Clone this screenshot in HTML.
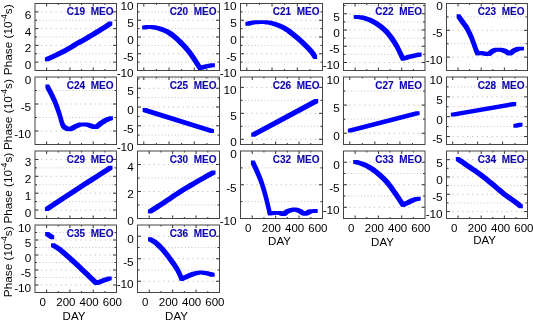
<!DOCTYPE html>
<html><head><meta charset="utf-8"><style>
html,body{margin:0;padding:0;background:#fff;}
body{width:533px;height:324px;overflow:hidden;}
svg{display:block;will-change:transform;}
text{font-family:"Liberation Sans",sans-serif;}
.t{font-size:10px;font-weight:bold;fill:#0d06ae;stroke:#0d06ae;stroke-width:0.12px;text-anchor:end;}
.yl{font-size:11.8px;fill:#000;text-anchor:end;}
.xl{font-size:11.5px;fill:#000;text-anchor:middle;}
.ya{font-size:11.8px;fill:#000;text-anchor:middle;}
.sup{font-size:8.6px;}
</style></head><body>
<svg width="533" height="324" viewBox="0 0 533 324">
<rect width="533" height="324" fill="#fff"/>
<line x1="36" y1="62.12" x2="115.5" y2="62.12" stroke="#c4c4c4" stroke-dasharray="1.3 3.6"/>
<line x1="36" y1="53.75" x2="115.5" y2="53.75" stroke="#c4c4c4" stroke-dasharray="1 2.3"/>
<line x1="36" y1="45.38" x2="115.5" y2="45.38" stroke="#c4c4c4" stroke-dasharray="1.3 3.6"/>
<line x1="36" y1="37" x2="115.5" y2="37" stroke="#c4c4c4" stroke-dasharray="1 2.3"/>
<line x1="36" y1="28.62" x2="115.5" y2="28.62" stroke="#c4c4c4" stroke-dasharray="1.3 3.6"/>
<line x1="36" y1="20.25" x2="115.5" y2="20.25" stroke="#c4c4c4" stroke-dasharray="1 2.3"/>
<line x1="36" y1="11.88" x2="115.5" y2="11.88" stroke="#c4c4c4" stroke-dasharray="1.3 3.6"/>
<path d="M35 62.12h3.5M116.5 62.12h-3.5" stroke="#333"/>
<path d="M35 53.75h2M116.5 53.75h-2" stroke="#333"/>
<path d="M35 45.38h3.5M116.5 45.38h-3.5" stroke="#333"/>
<path d="M35 37h2M116.5 37h-2" stroke="#333"/>
<path d="M35 28.62h3.5M116.5 28.62h-3.5" stroke="#333"/>
<path d="M35 20.25h2M116.5 20.25h-2" stroke="#333"/>
<path d="M35 11.88h3.5M116.5 11.88h-3.5" stroke="#333"/>
<path d="M46.64 3.5v3M46.64 70.5v-3" stroke="#333"/>
<path d="M58.29 3.5v1.5M58.29 70.5v-1.5" stroke="#333"/>
<path d="M69.93 3.5v3M69.93 70.5v-3" stroke="#333"/>
<path d="M81.57 3.5v1.5M81.57 70.5v-1.5" stroke="#333"/>
<path d="M93.21 3.5v3M93.21 70.5v-3" stroke="#333"/>
<path d="M104.86 3.5v1.5M104.86 70.5v-1.5" stroke="#333"/>
<path d="M44.9 57.5 45.77 57.1 49.57 57.1 49.57 60.9 48.7 61.3 44.9 61.3ZM45.77 57.1 46.94 56.57 50.74 56.57 50.74 60.37 49.57 60.9 45.77 60.9ZM46.94 56.57 48.34 55.93 52.14 55.93 52.14 59.73 50.74 60.37 46.94 60.37ZM48.34 55.93 49.89 55.21 53.69 55.21 53.69 59.01 52.14 59.73 48.34 59.73ZM49.89 55.21 51.51 54.46 55.31 54.46 55.31 58.26 53.69 59.01 49.89 59.01ZM51.51 54.46 53.1 53.7 56.9 53.7 56.9 57.5 55.31 58.26 51.51 58.26ZM53.1 53.7 54.72 52.93 58.52 52.93 58.52 56.73 56.9 57.5 53.1 57.5ZM54.72 52.93 56.43 52.11 60.23 52.11 60.23 55.91 58.52 56.73 54.72 56.73ZM56.43 52.11 58.21 51.25 62.01 51.25 62.01 55.05 60.23 55.91 56.43 55.91ZM58.21 51.25 60.01 50.36 63.81 50.36 63.81 54.16 62.01 55.05 58.21 55.05ZM60.01 50.36 61.82 49.44 65.62 49.44 65.62 53.24 63.81 54.16 60.01 54.16ZM61.82 49.44 63.6 48.5 67.4 48.5 67.4 52.3 65.62 53.24 61.82 53.24ZM63.6 48.5 65.35 47.52 69.15 47.52 69.15 51.32 67.4 52.3 63.6 52.3ZM65.35 47.52 67.1 46.5 70.9 46.5 70.9 50.3 69.15 51.32 65.35 51.32ZM67.1 46.5 68.85 45.44 72.65 45.44 72.65 49.24 70.9 50.3 67.1 50.3ZM68.85 45.44 70.6 44.38 74.4 44.38 74.4 48.18 72.65 49.24 68.85 49.24ZM70.6 44.38 72.35 43.33 76.15 43.33 76.15 47.13 74.4 48.18 70.6 48.18ZM72.35 43.33 74.1 42.3 77.9 42.3 77.9 46.1 76.15 47.13 72.35 47.13ZM74.1 42.3 75.85 41.3 79.65 41.3 79.65 45.1 77.9 46.1 74.1 46.1ZM75.85 41.3 77.6 40.33 81.4 40.33 81.4 44.13 79.65 45.1 75.85 45.1ZM77.6 40.33 79.35 39.36 83.15 39.36 83.15 43.16 81.4 44.13 77.6 44.13ZM79.35 39.36 81.1 38.39 84.9 38.39 84.9 42.19 83.15 43.16 79.35 43.16ZM81.1 38.39 82.85 37.4 86.65 37.4 86.65 41.2 84.9 42.19 81.1 42.19ZM82.85 37.4 84.6 36.4 88.4 36.4 88.4 40.2 86.65 41.2 82.85 41.2ZM84.6 36.4 86.37 35.36 90.17 35.36 90.17 39.16 88.4 40.2 84.6 40.2ZM86.37 35.36 88.18 34.29 91.98 34.29 91.98 38.09 90.17 39.16 86.37 39.16ZM88.18 34.29 89.98 33.21 93.78 33.21 93.78 37.01 91.98 38.09 88.18 38.09ZM89.98 33.21 91.76 32.13 95.56 32.13 95.56 35.93 93.78 37.01 89.98 37.01ZM91.76 32.13 93.47 31.09 97.27 31.09 97.27 34.89 95.56 35.93 91.76 35.93ZM93.47 31.09 95.1 30.1 98.9 30.1 98.9 33.9 97.27 34.89 93.47 34.89ZM95.1 30.1 96.66 29.15 100.46 29.15 100.46 32.95 98.9 33.9 95.1 33.9ZM96.66 29.15 98.18 28.22 101.98 28.22 101.98 32.02 100.46 32.95 96.66 32.95ZM98.18 28.22 99.64 27.32 103.44 27.32 103.44 31.12 101.98 32.02 98.18 32.02ZM99.64 27.32 101.03 26.46 104.83 26.46 104.83 30.26 103.44 31.12 99.64 31.12ZM101.03 26.46 102.32 25.65 106.12 25.65 106.12 29.45 104.83 30.26 101.03 30.26ZM102.32 25.65 103.5 24.9 107.3 24.9 107.3 28.7 106.12 29.45 102.32 29.45ZM103.5 24.9 104.59 24.19 108.39 24.19 108.39 27.99 107.3 28.7 103.5 28.7ZM104.59 24.19 105.6 23.51 109.4 23.51 109.4 27.31 108.39 27.99 104.59 27.99ZM105.6 23.51 106.53 22.88 110.33 22.88 110.33 26.67 109.4 27.31 105.6 27.31ZM106.53 22.88 107.33 22.31 111.13 22.31 111.13 26.11 110.33 26.67 106.53 26.67ZM107.33 22.31 108 21.85 111.8 21.85 111.8 25.65 111.13 26.11 107.33 26.11ZM108 21.85 108.5 21.5 112.3 21.5 112.3 25.3 111.8 25.65 108 25.65Z" fill="#0000ff"/>
<rect x="35" y="3.5" width="81.5" height="67" fill="none" stroke="#444"/>
<text x="113.5" y="14.9" class="t">C19&#160;&#160;MEO</text>
<text x="31.2" y="69.03" class="yl">0</text>
<text x="31.2" y="52.27" class="yl">2</text>
<text x="31.2" y="35.52" class="yl">4</text>
<text x="31.2" y="18.77" class="yl">6</text>
<line x1="138.5" y1="62.12" x2="218.5" y2="62.12" stroke="#c4c4c4" stroke-dasharray="1 2.3"/>
<line x1="138.5" y1="53.75" x2="218.5" y2="53.75" stroke="#c4c4c4" stroke-dasharray="1.3 3.6"/>
<line x1="138.5" y1="45.38" x2="218.5" y2="45.38" stroke="#c4c4c4" stroke-dasharray="1 2.3"/>
<line x1="138.5" y1="37" x2="218.5" y2="37" stroke="#c4c4c4" stroke-dasharray="1.3 3.6"/>
<line x1="138.5" y1="28.62" x2="218.5" y2="28.62" stroke="#c4c4c4" stroke-dasharray="1 2.3"/>
<line x1="138.5" y1="20.25" x2="218.5" y2="20.25" stroke="#c4c4c4" stroke-dasharray="1.3 3.6"/>
<line x1="138.5" y1="11.88" x2="218.5" y2="11.88" stroke="#c4c4c4" stroke-dasharray="1 2.3"/>
<path d="M137.5 62.12h2M219.5 62.12h-2" stroke="#333"/>
<path d="M137.5 53.75h3.5M219.5 53.75h-3.5" stroke="#333"/>
<path d="M137.5 45.38h2M219.5 45.38h-2" stroke="#333"/>
<path d="M137.5 37h3.5M219.5 37h-3.5" stroke="#333"/>
<path d="M137.5 28.62h2M219.5 28.62h-2" stroke="#333"/>
<path d="M137.5 20.25h3.5M219.5 20.25h-3.5" stroke="#333"/>
<path d="M137.5 11.88h2M219.5 11.88h-2" stroke="#333"/>
<path d="M143.81 3.5v3M143.81 70.5v-3" stroke="#333"/>
<path d="M156.42 3.5v1.5M156.42 70.5v-1.5" stroke="#333"/>
<path d="M169.04 3.5v3M169.04 70.5v-3" stroke="#333"/>
<path d="M181.65 3.5v1.5M181.65 70.5v-1.5" stroke="#333"/>
<path d="M194.27 3.5v3M194.27 70.5v-3" stroke="#333"/>
<path d="M206.88 3.5v1.5M206.88 70.5v-1.5" stroke="#333"/>
<path d="M142.1 25.7 142.68 25.6 146.48 25.6 146.48 29.4 145.9 29.5 142.1 29.5ZM142.68 25.6 143.45 25.44 147.25 25.44 147.25 29.24 146.48 29.4 142.68 29.4ZM143.45 25.44 144.37 25.27 148.17 25.27 148.17 29.07 147.25 29.24 143.45 29.24ZM144.37 25.27 145.42 25.11 149.22 25.11 149.22 28.91 148.17 29.07 144.37 29.07ZM145.42 25.11 146.54 25.01 150.34 25.01 150.34 28.81 149.22 28.91 145.42 28.91ZM146.54 25.01 147.7 25 151.5 25 151.5 28.8 150.34 28.81 146.54 28.81ZM147.7 25 151.5 25 152.71 25.07 152.71 28.87 148.91 28.87 147.7 28.8ZM148.91 25.07 152.71 25.07 154.01 25.18 154.01 28.98 150.21 28.98 148.91 28.87ZM150.21 25.18 154.01 25.18 155.39 25.34 155.39 29.14 151.59 29.14 150.21 28.98ZM151.59 25.34 155.39 25.34 156.84 25.58 156.84 29.38 153.04 29.38 151.59 29.14ZM153.04 25.58 156.84 25.58 158.35 25.89 158.35 29.69 154.55 29.69 153.04 29.38ZM154.55 25.89 158.35 25.89 159.9 26.3 159.9 30.1 156.1 30.1 154.55 29.69ZM156.1 26.3 159.9 26.3 161.53 26.78 161.53 30.58 157.73 30.58 156.1 30.1ZM157.73 26.78 161.53 26.78 163.24 27.33 163.24 31.13 159.44 31.13 157.73 30.58ZM159.44 27.33 163.24 27.33 165.02 27.96 165.02 31.76 161.22 31.76 159.44 31.13ZM161.22 27.96 165.02 27.96 166.82 28.68 166.82 32.48 163.02 32.48 161.22 31.76ZM163.02 28.68 166.82 28.68 168.63 29.52 168.63 33.32 164.83 33.32 163.02 32.48ZM164.83 29.52 168.63 29.52 170.4 30.5 170.4 34.3 166.6 34.3 164.83 33.32ZM166.6 30.5 170.4 30.5 172.15 31.62 172.15 35.42 168.35 35.42 166.6 34.3ZM168.35 31.62 172.15 31.62 173.9 32.87 173.9 36.67 170.1 36.67 168.35 35.42ZM170.1 32.87 173.9 32.87 175.65 34.24 175.65 38.04 171.85 38.04 170.1 36.67ZM171.85 34.24 175.65 34.24 177.4 35.71 177.4 39.51 173.6 39.51 171.85 38.04ZM173.6 35.71 177.4 35.71 179.15 37.27 179.15 41.07 175.35 41.07 173.6 39.51ZM175.35 37.27 179.15 37.27 180.9 38.9 180.9 42.7 177.1 42.7 175.35 41.07ZM177.1 38.9 180.9 38.9 182.65 40.6 182.65 44.4 178.85 44.4 177.1 42.7ZM178.85 40.6 182.65 40.6 184.4 42.38 184.4 46.18 180.6 46.18 178.85 44.4ZM180.6 42.38 184.4 42.38 186.15 44.24 186.15 48.04 182.35 48.04 180.6 46.18ZM182.35 44.24 186.15 44.24 187.9 46.21 187.9 50.01 184.1 50.01 182.35 48.04ZM184.1 46.21 187.9 46.21 189.65 48.29 189.65 52.09 185.85 52.09 184.1 50.01ZM185.85 48.29 189.65 48.29 191.4 50.5 191.4 54.3 187.6 54.3 185.85 52.09ZM187.6 50.5 191.4 50.5 193.27 53.06 193.27 56.86 189.47 56.86 187.6 54.3ZM189.47 53.06 193.27 53.06 195.29 56.01 195.29 59.81 191.49 59.81 189.47 56.86ZM191.49 56.01 195.29 56.01 197.31 59.07 197.31 62.87 193.51 62.87 191.49 59.81ZM193.51 59.07 197.31 59.07 199.18 61.98 199.18 65.78 195.38 65.78 193.51 62.87ZM195.38 61.98 199.18 61.98 200.76 64.44 200.76 68.24 196.96 68.24 195.38 65.78ZM196.96 64.44 200.76 64.44 201.9 66.2 201.9 70 198.1 70 196.96 68.24Z" fill="#0000ff"/>
<path d="M198.1 66.2 198.78 66.01 202.58 66.01 202.58 69.81 201.9 70 198.1 70ZM198.78 66.01 199.72 65.74 203.52 65.74 203.52 69.54 202.58 69.81 198.78 69.81ZM199.72 65.74 200.83 65.43 204.63 65.43 204.63 69.23 203.52 69.54 199.72 69.54ZM200.83 65.43 202.04 65.1 205.84 65.1 205.84 68.9 204.63 69.23 200.83 69.23ZM202.04 65.1 203.25 64.78 207.05 64.78 207.05 68.58 205.84 68.9 202.04 68.9ZM203.25 64.78 204.4 64.5 208.2 64.5 208.2 68.3 207.05 68.58 203.25 68.58ZM204.4 64.5 205.57 64.25 209.37 64.25 209.37 68.05 208.2 68.3 204.4 68.3ZM205.57 64.25 206.85 63.99 210.65 63.99 210.65 67.79 209.37 68.05 205.57 68.05ZM206.85 63.99 208.14 63.74 211.94 63.74 211.94 67.54 210.65 67.79 206.85 67.79ZM208.14 63.74 209.35 63.52 213.15 63.52 213.15 67.32 211.94 67.54 208.14 67.54ZM209.35 63.52 210.37 63.34 214.17 63.34 214.17 67.14 213.15 67.32 209.35 67.32ZM210.37 63.34 211.1 63.2 214.9 63.2 214.9 67 214.17 67.14 210.37 67.14Z" fill="#0000ff"/>
<rect x="137.5" y="3.5" width="82" height="67" fill="none" stroke="#444"/>
<text x="216.5" y="14.9" class="t">C20&#160;&#160;MEO</text>
<text x="133.7" y="77.4" class="yl">-10</text>
<text x="133.7" y="60.65" class="yl">-5</text>
<text x="133.7" y="43.9" class="yl">0</text>
<text x="133.7" y="27.15" class="yl">5</text>
<text x="133.7" y="10.4" class="yl">10</text>
<line x1="241.5" y1="62.12" x2="321.5" y2="62.12" stroke="#c4c4c4" stroke-dasharray="1 2.3"/>
<line x1="241.5" y1="53.75" x2="321.5" y2="53.75" stroke="#c4c4c4" stroke-dasharray="1.3 3.6"/>
<line x1="241.5" y1="45.38" x2="321.5" y2="45.38" stroke="#c4c4c4" stroke-dasharray="1 2.3"/>
<line x1="241.5" y1="37" x2="321.5" y2="37" stroke="#c4c4c4" stroke-dasharray="1.3 3.6"/>
<line x1="241.5" y1="28.62" x2="321.5" y2="28.62" stroke="#c4c4c4" stroke-dasharray="1 2.3"/>
<line x1="241.5" y1="20.25" x2="321.5" y2="20.25" stroke="#c4c4c4" stroke-dasharray="1.3 3.6"/>
<line x1="241.5" y1="11.88" x2="321.5" y2="11.88" stroke="#c4c4c4" stroke-dasharray="1 2.3"/>
<path d="M240.5 62.12h2M322.5 62.12h-2" stroke="#333"/>
<path d="M240.5 53.75h3.5M322.5 53.75h-3.5" stroke="#333"/>
<path d="M240.5 45.38h2M322.5 45.38h-2" stroke="#333"/>
<path d="M240.5 37h3.5M322.5 37h-3.5" stroke="#333"/>
<path d="M240.5 28.62h2M322.5 28.62h-2" stroke="#333"/>
<path d="M240.5 20.25h3.5M322.5 20.25h-3.5" stroke="#333"/>
<path d="M240.5 11.88h2M322.5 11.88h-2" stroke="#333"/>
<path d="M246.81 3.5v3M246.81 70.5v-3" stroke="#333"/>
<path d="M259.42 3.5v1.5M259.42 70.5v-1.5" stroke="#333"/>
<path d="M272.04 3.5v3M272.04 70.5v-3" stroke="#333"/>
<path d="M284.65 3.5v1.5M284.65 70.5v-1.5" stroke="#333"/>
<path d="M297.27 3.5v3M297.27 70.5v-3" stroke="#333"/>
<path d="M309.88 3.5v1.5M309.88 70.5v-1.5" stroke="#333"/>
<path d="M245.4 22 245.94 21.85 249.74 21.85 249.74 25.65 249.2 25.8 245.4 25.8ZM245.94 21.85 246.66 21.63 250.46 21.63 250.46 25.43 249.74 25.65 245.94 25.65ZM246.66 21.63 247.53 21.38 251.33 21.38 251.33 25.18 250.46 25.43 246.66 25.43ZM247.53 21.38 248.51 21.12 252.31 21.12 252.31 24.92 251.33 25.18 247.53 25.18ZM248.51 21.12 249.58 20.89 253.38 20.89 253.38 24.69 252.31 24.92 248.51 24.92ZM249.58 20.89 250.7 20.7 254.5 20.7 254.5 24.5 253.38 24.69 249.58 24.69ZM250.7 20.7 251.92 20.56 255.72 20.56 255.72 24.36 254.5 24.5 250.7 24.5ZM251.92 20.56 253.27 20.43 257.07 20.43 257.07 24.23 255.72 24.36 251.92 24.36ZM253.27 20.43 254.71 20.33 258.51 20.33 258.51 24.13 257.07 24.23 253.27 24.23ZM254.71 20.33 256.19 20.26 259.99 20.26 259.99 24.06 258.51 24.13 254.71 24.13ZM256.19 20.26 257.66 20.21 261.46 20.21 261.46 24.01 259.99 24.06 256.19 24.06ZM257.66 20.21 259.1 20.2 262.9 20.2 262.9 24 261.46 24.01 257.66 24.01ZM259.1 20.2 262.9 20.2 264.3 20.22 264.3 24.02 260.5 24.02 259.1 24ZM260.5 20.22 264.3 20.22 265.7 20.25 265.7 24.05 261.9 24.05 260.5 24.02ZM261.9 20.25 265.7 20.25 267.1 20.32 267.1 24.12 263.3 24.12 261.9 24.05ZM263.3 20.32 267.1 20.32 268.5 20.43 268.5 24.23 264.7 24.23 263.3 24.12ZM264.7 20.43 268.5 20.43 269.9 20.58 269.9 24.38 266.1 24.38 264.7 24.23ZM266.1 20.58 269.9 20.58 271.3 20.8 271.3 24.6 267.5 24.6 266.1 24.38ZM267.5 20.8 271.3 20.8 272.7 21.07 272.7 24.87 268.9 24.87 267.5 24.6ZM268.9 21.07 272.7 21.07 274.1 21.4 274.1 25.2 270.3 25.2 268.9 24.87ZM270.3 21.4 274.1 21.4 275.5 21.78 275.5 25.57 271.7 25.57 270.3 25.2ZM271.7 21.78 275.5 21.78 276.9 22.2 276.9 26 273.1 26 271.7 25.57ZM273.1 22.2 276.9 22.2 278.3 22.68 278.3 26.47 274.5 26.47 273.1 26ZM274.5 22.68 278.3 22.68 279.7 23.2 279.7 27 275.9 27 274.5 26.47ZM275.9 23.2 279.7 23.2 281.1 23.77 281.1 27.57 277.3 27.57 275.9 27ZM277.3 23.77 281.1 23.77 282.5 24.39 282.5 28.19 278.7 28.19 277.3 27.57ZM278.7 24.39 282.5 24.39 283.9 25.06 283.9 28.86 280.1 28.86 278.7 28.19ZM280.1 25.06 283.9 25.06 285.3 25.78 285.3 29.58 281.5 29.58 280.1 28.86ZM281.5 25.78 285.3 25.78 286.7 26.56 286.7 30.36 282.9 30.36 281.5 29.58ZM282.9 26.56 286.7 26.56 288.1 27.4 288.1 31.2 284.3 31.2 282.9 30.36ZM284.3 27.4 288.1 27.4 289.5 28.32 289.5 32.12 285.7 32.12 284.3 31.2ZM285.7 28.32 289.5 28.32 290.9 29.31 290.9 33.11 287.1 33.11 285.7 32.12ZM287.1 29.31 290.9 29.31 292.3 30.36 292.3 34.16 288.5 34.16 287.1 33.11ZM288.5 30.36 292.3 30.36 293.7 31.45 293.7 35.25 289.9 35.25 288.5 34.16ZM289.9 31.45 293.7 31.45 295.1 32.57 295.1 36.37 291.3 36.37 289.9 35.25ZM291.3 32.57 295.1 32.57 296.5 33.7 296.5 37.5 292.7 37.5 291.3 36.37ZM292.7 33.7 296.5 33.7 297.9 34.84 297.9 38.64 294.1 38.64 292.7 37.5ZM294.1 34.84 297.9 34.84 299.3 36 299.3 39.8 295.5 39.8 294.1 38.64ZM295.5 36 299.3 36 300.7 37.19 300.7 40.99 296.9 40.99 295.5 39.8ZM296.9 37.19 300.7 37.19 302.1 38.42 302.1 42.22 298.3 42.22 296.9 40.99ZM298.3 38.42 302.1 38.42 303.5 39.68 303.5 43.48 299.7 43.48 298.3 42.22ZM299.7 39.68 303.5 39.68 304.9 41 304.9 44.8 301.1 44.8 299.7 43.48ZM301.1 41 304.9 41 306.35 42.42 306.35 46.22 302.55 46.22 301.1 44.8ZM302.55 42.42 306.35 42.42 307.87 43.94 307.87 47.74 304.07 47.74 302.55 46.22ZM304.07 43.94 307.87 43.94 309.39 45.51 309.39 49.31 305.59 49.31 304.07 47.74ZM305.59 45.51 309.39 45.51 310.84 47.06 310.84 50.86 307.04 50.86 305.59 49.31ZM307.04 47.06 310.84 47.06 312.17 48.51 312.17 52.31 308.37 52.31 307.04 50.86ZM308.37 48.51 312.17 48.51 313.3 49.8 313.3 53.6 309.5 53.6 308.37 52.31ZM309.5 49.8 313.3 49.8 314.24 50.97 314.24 54.77 310.44 54.77 309.5 53.6ZM310.44 50.97 314.24 50.97 315.05 52.08 315.05 55.88 311.25 55.88 310.44 54.77ZM311.25 52.08 315.05 52.08 315.72 53.1 315.72 56.9 311.93 56.9 311.25 55.88ZM311.93 53.1 315.72 53.1 316.29 54 316.29 57.8 312.49 57.8 311.93 56.9ZM312.49 54 316.29 54 316.74 54.74 316.74 58.54 312.94 58.54 312.49 57.8ZM312.94 54.74 316.74 54.74 317.1 55.3 317.1 59.1 313.3 59.1 312.94 58.54Z" fill="#0000ff"/>
<rect x="240.5" y="3.5" width="82" height="67" fill="none" stroke="#444"/>
<text x="319.5" y="14.9" class="t">C21&#160;&#160;MEO</text>
<text x="236.7" y="77.4" class="yl">-10</text>
<text x="236.7" y="60.65" class="yl">-5</text>
<text x="236.7" y="43.9" class="yl">0</text>
<text x="236.7" y="27.15" class="yl">5</text>
<text x="236.7" y="10.4" class="yl">10</text>
<line x1="344.5" y1="62.48" x2="424" y2="62.48" stroke="#c4c4c4" stroke-dasharray="1.3 3.6"/>
<line x1="344.5" y1="54.36" x2="424" y2="54.36" stroke="#c4c4c4" stroke-dasharray="1 2.3"/>
<line x1="344.5" y1="46.24" x2="424" y2="46.24" stroke="#c4c4c4" stroke-dasharray="1.3 3.6"/>
<line x1="344.5" y1="38.12" x2="424" y2="38.12" stroke="#c4c4c4" stroke-dasharray="1 2.3"/>
<line x1="344.5" y1="30" x2="424" y2="30" stroke="#c4c4c4" stroke-dasharray="1.3 3.6"/>
<line x1="344.5" y1="21.88" x2="424" y2="21.88" stroke="#c4c4c4" stroke-dasharray="1 2.3"/>
<line x1="344.5" y1="13.76" x2="424" y2="13.76" stroke="#c4c4c4" stroke-dasharray="1.3 3.6"/>
<line x1="344.5" y1="5.64" x2="424" y2="5.64" stroke="#c4c4c4" stroke-dasharray="1 2.3"/>
<path d="M343.5 62.48h3.5M425 62.48h-3.5" stroke="#333"/>
<path d="M343.5 54.36h2M425 54.36h-2" stroke="#333"/>
<path d="M343.5 46.24h3.5M425 46.24h-3.5" stroke="#333"/>
<path d="M343.5 38.12h2M425 38.12h-2" stroke="#333"/>
<path d="M343.5 30h3.5M425 30h-3.5" stroke="#333"/>
<path d="M343.5 21.88h2M425 21.88h-2" stroke="#333"/>
<path d="M343.5 13.76h3.5M425 13.76h-3.5" stroke="#333"/>
<path d="M343.5 5.64h2M425 5.64h-2" stroke="#333"/>
<path d="M355.14 3.5v3M355.14 70.5v-3" stroke="#333"/>
<path d="M366.79 3.5v1.5M366.79 70.5v-1.5" stroke="#333"/>
<path d="M378.43 3.5v3M378.43 70.5v-3" stroke="#333"/>
<path d="M390.07 3.5v1.5M390.07 70.5v-1.5" stroke="#333"/>
<path d="M401.71 3.5v3M401.71 70.5v-3" stroke="#333"/>
<path d="M413.36 3.5v1.5M413.36 70.5v-1.5" stroke="#333"/>
<path d="M353.7 15 357.5 15 358.16 15.04 358.16 18.84 354.36 18.84 353.7 18.8ZM354.36 15.04 358.16 15.04 359.06 15.08 359.06 18.88 355.26 18.88 354.36 18.84ZM355.26 15.08 359.06 15.08 360.12 15.13 360.12 18.93 356.33 18.93 355.26 18.88ZM356.33 15.13 360.12 15.13 361.31 15.22 361.31 19.02 357.51 19.02 356.33 18.93ZM357.51 15.22 361.31 15.22 362.56 15.37 362.56 19.17 358.76 19.17 357.51 19.02ZM358.76 15.37 362.56 15.37 363.8 15.6 363.8 19.4 360 19.4 358.76 19.17ZM360 15.6 363.8 15.6 365.08 15.9 365.08 19.7 361.28 19.7 360 19.4ZM361.28 15.9 365.08 15.9 366.44 16.26 366.44 20.06 362.64 20.06 361.28 19.7ZM362.64 16.26 366.44 16.26 367.87 16.68 367.87 20.48 364.07 20.48 362.64 20.06ZM364.07 16.68 367.87 16.68 369.32 17.16 369.32 20.96 365.52 20.96 364.07 20.48ZM365.52 17.16 369.32 17.16 370.78 17.7 370.78 21.5 366.98 21.5 365.52 20.96ZM366.98 17.7 370.78 17.7 372.2 18.3 372.2 22.1 368.4 22.1 366.98 21.5ZM368.4 18.3 372.2 18.3 373.6 18.96 373.6 22.76 369.8 22.76 368.4 22.1ZM369.8 18.96 373.6 18.96 375 19.68 375 23.48 371.2 23.48 369.8 22.76ZM371.2 19.68 375 19.68 376.4 20.46 376.4 24.26 372.6 24.26 371.2 23.48ZM372.6 20.46 376.4 20.46 377.8 21.31 377.8 25.11 374 25.11 372.6 24.26ZM374 21.31 377.8 21.31 379.2 22.22 379.2 26.02 375.4 26.02 374 25.11ZM375.4 22.22 379.2 22.22 380.6 23.2 380.6 27 376.8 27 375.4 26.02ZM376.8 23.2 380.6 23.2 382 24.23 382 28.03 378.2 28.03 376.8 27ZM378.2 24.23 382 24.23 383.4 25.3 383.4 29.1 379.6 29.1 378.2 28.03ZM379.6 25.3 383.4 25.3 384.8 26.43 384.8 30.23 381 30.23 379.6 29.1ZM381 26.43 384.8 26.43 386.2 27.66 386.2 31.46 382.4 31.46 381 30.23ZM382.4 27.66 386.2 27.66 387.6 29.01 387.6 32.81 383.8 32.81 382.4 31.46ZM383.8 29.01 387.6 29.01 389 30.5 389 34.3 385.2 34.3 383.8 32.81ZM385.2 30.5 389 30.5 390.41 32.15 390.41 35.95 386.61 35.95 385.2 34.3ZM386.61 32.15 390.41 32.15 391.84 33.93 391.84 37.73 388.04 37.73 386.61 35.95ZM388.04 33.93 391.84 33.93 393.26 35.84 393.26 39.64 389.46 39.64 388.04 37.73ZM389.46 35.84 393.26 35.84 394.67 37.84 394.67 41.64 390.87 41.64 389.46 39.64ZM390.87 37.84 394.67 37.84 396.06 39.94 396.06 43.74 392.26 43.74 390.87 41.64ZM392.26 39.94 396.06 39.94 397.4 42.1 397.4 45.9 393.6 45.9 392.26 43.74ZM393.6 42.1 397.4 42.1 398.78 44.54 398.78 48.34 394.98 48.34 393.6 45.9ZM394.98 44.54 398.78 44.54 400.21 47.31 400.21 51.11 396.41 51.11 394.98 48.34ZM396.41 47.31 400.21 47.31 401.62 50.18 401.62 53.98 397.83 53.98 396.41 51.11ZM397.83 50.18 401.62 50.18 402.92 52.87 402.92 56.67 399.12 56.67 397.83 53.98ZM399.12 52.87 402.92 52.87 404.01 55.16 404.01 58.96 400.21 58.96 399.12 56.67ZM400.21 55.16 404.01 55.16 404.8 56.8 404.8 60.6 401 60.6 400.21 58.96Z" fill="#0000ff"/>
<path d="M401 56.8 401.77 56.57 405.57 56.57 405.57 60.37 404.8 60.6 401 60.6ZM401.77 56.57 402.81 56.26 406.61 56.26 406.61 60.06 405.57 60.37 401.77 60.37ZM402.81 56.26 404.06 55.88 407.86 55.88 407.86 59.68 406.61 60.06 402.81 60.06ZM404.06 55.88 405.43 55.48 409.23 55.48 409.23 59.28 407.86 59.68 404.06 59.68ZM405.43 55.48 406.87 55.07 410.67 55.07 410.67 58.87 409.23 59.28 405.43 59.28ZM406.87 55.07 408.3 54.7 412.1 54.7 412.1 58.5 410.67 58.87 406.87 58.87ZM408.3 54.7 409.87 54.33 413.67 54.33 413.67 58.13 412.1 58.5 408.3 58.5ZM409.87 54.33 411.66 53.92 415.46 53.92 415.46 57.72 413.67 58.13 409.87 58.13ZM411.66 53.92 413.51 53.52 417.31 53.52 417.31 57.32 415.46 57.72 411.66 57.72ZM413.51 53.52 415.26 53.14 419.06 53.14 419.06 56.94 417.31 57.32 413.51 57.32ZM415.26 53.14 416.74 52.83 420.54 52.83 420.54 56.63 419.06 56.94 415.26 56.94ZM416.74 52.83 417.8 52.6 421.6 52.6 421.6 56.4 420.54 56.63 416.74 56.63Z" fill="#0000ff"/>
<rect x="343.5" y="3.5" width="81.5" height="67" fill="none" stroke="#444"/>
<text x="422" y="14.9" class="t">C22&#160;&#160;MEO</text>
<text x="339.7" y="69.38" class="yl">-10</text>
<text x="339.7" y="53.14" class="yl">-5</text>
<text x="339.7" y="36.9" class="yl">0</text>
<text x="339.7" y="20.66" class="yl">5</text>
<line x1="447.5" y1="57.1" x2="526.5" y2="57.1" stroke="#c4c4c4" stroke-dasharray="1.3 3.6"/>
<line x1="447.5" y1="43.7" x2="526.5" y2="43.7" stroke="#c4c4c4" stroke-dasharray="1 2.3"/>
<line x1="447.5" y1="30.3" x2="526.5" y2="30.3" stroke="#c4c4c4" stroke-dasharray="1.3 3.6"/>
<line x1="447.5" y1="16.9" x2="526.5" y2="16.9" stroke="#c4c4c4" stroke-dasharray="1 2.3"/>
<path d="M446.5 57.1h3.5M527.5 57.1h-3.5" stroke="#333"/>
<path d="M446.5 43.7h2M527.5 43.7h-2" stroke="#333"/>
<path d="M446.5 30.3h3.5M527.5 30.3h-3.5" stroke="#333"/>
<path d="M446.5 16.9h2M527.5 16.9h-2" stroke="#333"/>
<path d="M458.07 3.5v3M458.07 70.5v-3" stroke="#333"/>
<path d="M469.64 3.5v1.5M469.64 70.5v-1.5" stroke="#333"/>
<path d="M481.21 3.5v3M481.21 70.5v-3" stroke="#333"/>
<path d="M492.79 3.5v1.5M492.79 70.5v-1.5" stroke="#333"/>
<path d="M504.36 3.5v3M504.36 70.5v-3" stroke="#333"/>
<path d="M515.93 3.5v1.5M515.93 70.5v-1.5" stroke="#333"/>
<path d="M456.6 14.3 460.4 14.3 460.81 14.89 460.81 18.69 457.01 18.69 456.6 18.1ZM457.01 14.89 460.81 14.89 461.38 15.7 461.38 19.5 457.58 19.5 457.01 18.69ZM457.58 15.7 461.38 15.7 462.06 16.66 462.06 20.46 458.26 20.46 457.58 19.5ZM458.26 16.66 462.06 16.66 462.79 17.7 462.79 21.5 458.99 21.5 458.26 20.46ZM458.99 17.7 462.79 17.7 463.52 18.74 463.52 22.54 459.72 22.54 458.99 21.5ZM459.72 18.74 463.52 18.74 464.2 19.7 464.2 23.5 460.4 23.5 459.72 22.54ZM460.4 19.7 464.2 19.7 464.85 20.6 464.85 24.4 461.05 24.4 460.4 23.5ZM461.05 20.6 464.85 20.6 465.52 21.49 465.52 25.29 461.72 25.29 461.05 24.4ZM461.72 21.49 465.52 21.49 466.19 22.38 466.19 26.17 462.39 26.17 461.72 25.29ZM462.39 22.38 466.19 22.38 466.86 23.27 466.86 27.07 463.06 27.07 462.39 26.17ZM463.06 23.27 466.86 23.27 467.5 24.18 467.5 27.98 463.7 27.98 463.06 27.07ZM463.7 24.18 467.5 24.18 468.1 25.1 468.1 28.9 464.3 28.9 463.7 27.98ZM464.3 25.1 468.1 25.1 468.67 26.05 468.67 29.85 464.87 29.85 464.3 28.9ZM464.87 26.05 468.67 26.05 469.22 27.03 469.22 30.83 465.42 30.83 464.87 29.85ZM465.42 27.03 469.22 27.03 469.75 28.02 469.75 31.82 465.95 31.82 465.42 30.83ZM465.95 28.02 469.75 28.02 470.26 29.01 470.26 32.81 466.46 32.81 465.95 31.82ZM466.46 29.01 470.26 29.01 470.74 29.98 470.74 33.77 466.94 33.77 466.46 32.81ZM466.94 29.98 470.74 29.98 471.2 30.9 471.2 34.7 467.4 34.7 466.94 33.77ZM467.4 30.9 471.2 30.9 471.63 31.77 471.63 35.57 467.83 35.57 467.4 34.7ZM467.83 31.77 471.63 31.77 472.03 32.58 472.03 36.38 468.23 36.38 467.83 35.57ZM468.23 32.58 472.03 32.58 472.4 33.38 472.4 37.17 468.6 37.17 468.23 36.38ZM468.6 33.38 472.4 33.38 472.76 34.17 472.76 37.97 468.96 37.97 468.6 37.17ZM468.96 34.17 472.76 34.17 473.13 35.01 473.13 38.81 469.33 38.81 468.96 37.97ZM469.33 35.01 473.13 35.01 473.5 35.9 473.5 39.7 469.7 39.7 469.33 38.81ZM469.7 35.9 473.5 35.9 473.88 36.86 473.88 40.66 470.08 40.66 469.7 39.7ZM470.08 36.86 473.88 36.86 474.27 37.87 474.27 41.67 470.47 41.67 470.08 40.66ZM470.47 37.87 474.27 37.87 474.65 38.91 474.65 42.71 470.85 42.71 470.47 41.67ZM470.85 38.91 474.65 38.91 475.03 39.97 475.03 43.77 471.23 43.77 470.85 42.71ZM471.23 39.97 475.03 39.97 475.42 41.04 475.42 44.84 471.62 44.84 471.23 43.77ZM471.62 41.04 475.42 41.04 475.8 42.1 475.8 45.9 472 45.9 471.62 44.84ZM472 42.1 475.8 42.1 476.19 43.2 476.19 47 472.39 47 472 45.9ZM472.39 43.2 476.19 43.2 476.6 44.35 476.6 48.15 472.8 48.15 472.39 47ZM472.8 44.35 476.6 44.35 477.01 45.51 477.01 49.31 473.21 49.31 472.8 48.15ZM473.21 45.51 477.01 45.51 477.4 46.62 477.4 50.42 473.6 50.42 473.21 49.31ZM473.6 46.62 477.4 46.62 477.77 47.63 477.77 51.43 473.97 51.43 473.6 50.42ZM473.97 47.63 477.77 47.63 478.1 48.5 478.1 52.3 474.3 52.3 473.97 51.43ZM474.3 48.5 478.1 48.5 478.4 49.22 478.4 53.02 474.6 53.02 474.3 52.3ZM474.6 49.22 478.4 49.22 478.69 49.83 478.69 53.63 474.89 53.63 474.6 53.02ZM474.89 49.83 478.69 49.83 478.94 50.35 478.94 54.15 475.14 54.15 474.89 53.63ZM475.14 50.35 478.94 50.35 479.17 50.78 479.17 54.58 475.37 54.58 475.14 54.15ZM475.37 50.78 479.17 50.78 479.36 51.12 479.36 54.92 475.56 54.92 475.37 54.58ZM475.56 51.12 479.36 51.12 479.5 51.4 479.5 55.2 475.7 55.2 475.56 54.92Z" fill="#0000ff"/>
<path d="M475.7 51.4 476.05 51.36 479.85 51.36 479.85 55.16 479.5 55.2 475.7 55.2ZM476.05 51.36 476.53 51.29 480.33 51.29 480.33 55.09 479.85 55.16 476.05 55.16ZM476.53 51.29 477.11 51.21 480.91 51.21 480.91 55.01 480.33 55.09 476.53 55.09ZM477.11 51.21 477.73 51.14 481.53 51.14 481.53 54.94 480.91 55.01 477.11 55.01ZM477.73 51.14 478.38 51.1 482.18 51.1 482.18 54.9 481.53 54.94 477.73 54.94ZM478.38 51.1 482.8 51.1 482.8 54.9 478.38 54.9ZM479 51.1 482.8 51.1 483.42 51.16 483.42 54.96 479.62 54.96 479 54.9ZM479.62 51.16 483.42 51.16 484.06 51.27 484.06 55.07 480.26 55.07 479.62 54.96ZM480.26 51.27 484.06 51.27 484.71 51.41 484.71 55.21 480.91 55.21 480.26 55.07ZM480.91 51.41 484.71 51.41 485.38 51.56 485.38 55.36 481.58 55.36 480.91 55.21ZM481.58 51.56 485.38 51.56 486.04 51.69 486.04 55.49 482.24 55.49 481.58 55.36ZM482.24 51.69 486.04 51.69 486.7 51.8 486.7 55.6 482.9 55.6 482.24 55.49ZM482.9 51.8 486.7 51.8 487.35 51.91 487.35 55.71 483.55 55.71 482.9 55.6ZM483.55 51.91 487.35 51.91 488 52.05 488 55.85 484.2 55.85 483.55 55.71ZM484.2 52.05 488 52.05 488.65 52.18 488.65 55.98 484.85 55.98 484.2 55.85ZM484.85 52.18 488.65 52.18 489.3 52.25 489.3 56.05 485.5 56.05 484.85 55.98ZM485.5 52.25 486.15 52.24 489.95 52.24 489.95 56.04 489.3 56.05 485.5 56.05ZM486.15 52.24 486.8 52.1 490.6 52.1 490.6 55.9 489.95 56.04 486.15 56.04ZM486.8 52.1 487.44 51.79 491.24 51.79 491.24 55.59 490.6 55.9 486.8 55.9ZM487.44 51.79 488.07 51.32 491.87 51.32 491.87 55.12 491.24 55.59 487.44 55.59ZM488.07 51.32 488.69 50.76 492.49 50.76 492.49 54.56 491.87 55.12 488.07 55.12ZM488.69 50.76 489.33 50.18 493.13 50.18 493.13 53.98 492.49 54.56 488.69 54.56ZM489.33 50.18 490 49.64 493.8 49.64 493.8 53.44 493.13 53.98 489.33 53.98ZM490 49.64 490.7 49.2 494.5 49.2 494.5 53 493.8 53.44 490 53.44ZM490.7 49.2 491.45 48.85 495.25 48.85 495.25 52.65 494.5 53 490.7 53ZM491.45 48.85 492.23 48.52 496.03 48.52 496.03 52.32 495.25 52.65 491.45 52.65ZM492.23 48.52 493.04 48.24 496.84 48.24 496.84 52.04 496.03 52.32 492.23 52.32ZM493.04 48.24 493.86 48 497.66 48 497.66 51.8 496.84 52.04 493.04 52.04ZM493.86 48 494.68 47.82 498.48 47.82 498.48 51.62 497.66 51.8 493.86 51.8ZM494.68 47.82 495.5 47.7 499.3 47.7 499.3 51.5 498.48 51.62 494.68 51.62ZM495.5 47.7 496.32 47.66 500.12 47.66 500.12 51.46 499.3 51.5 495.5 51.5ZM496.32 47.66 500.12 47.66 500.96 47.68 500.96 51.48 497.16 51.48 496.32 51.46ZM497.16 47.68 500.96 47.68 501.81 47.76 501.81 51.56 498.01 51.56 497.16 51.48ZM498.01 47.76 501.81 47.76 502.64 47.89 502.64 51.69 498.84 51.69 498.01 51.56ZM498.84 47.89 502.64 47.89 503.44 48.04 503.44 51.84 499.64 51.84 498.84 51.69ZM499.64 48.04 503.44 48.04 504.2 48.2 504.2 52 500.4 52 499.64 51.84ZM500.4 48.2 504.2 48.2 504.91 48.39 504.91 52.19 501.11 52.19 500.4 52ZM501.11 48.39 504.91 48.39 505.59 48.61 505.59 52.41 501.79 52.41 501.11 52.19ZM501.79 48.61 505.59 48.61 506.24 48.86 506.24 52.66 502.44 52.66 501.79 52.41ZM502.44 48.86 506.24 48.86 506.87 49.13 506.87 52.93 503.07 52.93 502.44 52.66ZM503.07 49.13 506.87 49.13 507.49 49.42 507.49 53.22 503.69 53.22 503.07 52.93ZM503.69 49.42 507.49 49.42 508.1 49.7 508.1 53.5 504.3 53.5 503.69 53.22ZM504.3 49.7 508.1 49.7 508.68 50.05 508.68 53.85 504.88 53.85 504.3 53.5ZM504.88 50.05 508.68 50.05 509.23 50.48 509.23 54.28 505.43 54.28 504.88 53.85ZM505.43 50.48 509.23 50.48 509.77 50.93 509.77 54.73 505.97 54.73 505.43 54.28ZM505.97 50.93 509.77 50.93 510.31 51.31 510.31 55.11 506.51 55.11 505.97 54.73ZM506.51 51.31 510.31 51.31 510.88 51.56 510.88 55.36 507.08 55.36 506.51 55.11ZM507.08 51.56 510.88 51.56 511.5 51.6 511.5 55.4 507.7 55.4 507.08 55.36ZM507.7 51.6 508.37 51.38 512.17 51.38 512.17 55.18 511.5 55.4 507.7 55.4ZM508.37 51.38 509.07 50.95 512.87 50.95 512.87 54.75 512.17 55.18 508.37 55.18ZM509.07 50.95 509.81 50.39 513.61 50.39 513.61 54.19 512.87 54.75 509.07 54.75ZM509.81 50.39 510.56 49.77 514.36 49.77 514.36 53.57 513.61 54.19 509.81 54.19ZM510.56 49.77 511.33 49.18 515.13 49.18 515.13 52.98 514.36 53.57 510.56 53.57ZM511.33 49.18 512.1 48.7 515.9 48.7 515.9 52.5 515.13 52.98 511.33 52.98ZM512.1 48.7 512.91 48.3 516.71 48.3 516.71 52.1 515.9 52.5 512.1 52.5ZM512.91 48.3 513.76 47.93 517.56 47.93 517.56 51.73 516.71 52.1 512.91 52.1ZM513.76 47.93 514.63 47.58 518.43 47.58 518.43 51.38 517.56 51.73 513.76 51.73ZM514.63 47.58 515.48 47.26 519.28 47.26 519.28 51.06 518.43 51.38 514.63 51.38ZM515.48 47.26 516.28 47 520.08 47 520.08 50.8 519.28 51.06 515.48 51.06ZM516.28 47 517 46.8 520.8 46.8 520.8 50.6 520.08 50.8 516.28 50.8ZM517 46.8 517.66 46.68 521.46 46.68 521.46 50.48 520.8 50.6 517 50.6ZM517.66 46.68 518.28 46.63 522.08 46.63 522.08 50.43 521.46 50.48 517.66 50.48ZM518.28 46.63 522.66 46.63 522.66 50.43 518.28 50.43ZM518.86 46.63 522.66 46.63 523.16 46.66 523.16 50.46 519.36 50.46 518.86 50.43ZM519.36 46.66 523.16 46.66 523.58 46.69 523.58 50.49 519.78 50.49 519.36 50.46ZM519.78 46.69 523.58 46.69 523.9 46.7 523.9 50.5 520.1 50.5 519.78 50.49Z" fill="#0000ff"/>
<rect x="446.5" y="3.5" width="81" height="67" fill="none" stroke="#444"/>
<text x="524.5" y="14.9" class="t">C23&#160;&#160;MEO</text>
<text x="442.7" y="64" class="yl">-10</text>
<text x="442.7" y="37.2" class="yl">-5</text>
<text x="442.7" y="10.4" class="yl">0</text>
<line x1="36" y1="131" x2="115.5" y2="131" stroke="#c4c4c4" stroke-dasharray="1.3 3.6"/>
<line x1="36" y1="117.5" x2="115.5" y2="117.5" stroke="#c4c4c4" stroke-dasharray="1 2.3"/>
<line x1="36" y1="104" x2="115.5" y2="104" stroke="#c4c4c4" stroke-dasharray="1.3 3.6"/>
<line x1="36" y1="90.5" x2="115.5" y2="90.5" stroke="#c4c4c4" stroke-dasharray="1 2.3"/>
<path d="M35 131h3.5M116.5 131h-3.5" stroke="#333"/>
<path d="M35 117.5h2M116.5 117.5h-2" stroke="#333"/>
<path d="M35 104h3.5M116.5 104h-3.5" stroke="#333"/>
<path d="M35 90.5h2M116.5 90.5h-2" stroke="#333"/>
<path d="M46.64 77v3M46.64 144.5v-3" stroke="#333"/>
<path d="M58.29 77v1.5M58.29 144.5v-1.5" stroke="#333"/>
<path d="M69.93 77v3M69.93 144.5v-3" stroke="#333"/>
<path d="M81.57 77v1.5M81.57 144.5v-1.5" stroke="#333"/>
<path d="M93.21 77v3M93.21 144.5v-3" stroke="#333"/>
<path d="M104.86 77v1.5M104.86 144.5v-1.5" stroke="#333"/>
<path d="M45.4 84.5 49.2 84.5 49.6 85.24 49.6 89.04 45.8 89.04 45.4 88.3ZM45.8 85.24 49.6 85.24 50.14 86.23 50.14 90.03 46.34 90.03 45.8 89.04ZM46.34 86.23 50.14 86.23 50.78 87.43 50.78 91.23 46.98 91.23 46.34 90.03ZM46.98 87.43 50.78 87.43 51.49 88.74 51.49 92.54 47.69 92.54 46.98 91.23ZM47.69 88.74 51.49 88.74 52.21 90.13 52.21 93.93 48.41 93.93 47.69 92.54ZM48.41 90.13 52.21 90.13 52.9 91.5 52.9 95.3 49.1 95.3 48.41 93.93ZM49.1 91.5 52.9 91.5 53.59 92.89 53.59 96.69 49.79 96.69 49.1 95.3ZM49.79 92.89 53.59 92.89 54.31 94.35 54.31 98.15 50.51 98.15 49.79 96.69ZM50.51 94.35 54.31 94.35 55.04 95.88 55.04 99.68 51.24 99.68 50.51 98.15ZM51.24 95.88 55.04 95.88 55.78 97.45 55.78 101.25 51.98 101.25 51.24 99.68ZM51.98 97.45 55.78 97.45 56.51 99.06 56.51 102.86 52.71 102.86 51.98 101.25ZM52.71 99.06 56.51 99.06 57.2 100.7 57.2 104.5 53.4 104.5 52.71 102.86ZM53.4 100.7 57.2 100.7 57.86 102.37 57.86 106.17 54.06 106.17 53.4 104.5ZM54.06 102.37 57.86 102.37 58.51 104.09 58.51 107.89 54.71 107.89 54.06 106.17ZM54.71 104.09 58.51 104.09 59.14 105.84 59.14 109.64 55.34 109.64 54.71 107.89ZM55.34 105.84 59.14 105.84 59.77 107.63 59.77 111.43 55.97 111.43 55.34 109.64ZM55.97 107.63 59.77 107.63 60.38 109.45 60.38 113.25 56.58 113.25 55.97 111.43ZM56.58 109.45 60.38 109.45 61 111.3 61 115.1 57.2 115.1 56.58 113.25ZM57.2 111.3 61 111.3 61.62 113.28 61.62 117.08 57.82 117.08 57.2 115.1ZM57.82 113.28 61.62 113.28 62.23 115.43 62.23 119.23 58.43 119.23 57.82 117.08ZM58.43 115.43 62.23 115.43 62.84 117.61 62.84 121.41 59.04 121.41 58.43 119.23ZM59.04 117.61 62.84 117.61 63.44 119.69 63.44 123.49 59.64 123.49 59.04 121.41ZM59.64 119.69 63.44 119.69 64.03 121.53 64.03 125.33 60.23 125.33 59.64 123.49ZM60.23 121.53 64.03 121.53 64.6 123 64.6 126.8 60.8 126.8 60.23 125.33ZM60.8 123 64.6 123 65.14 124.05 65.14 127.85 61.34 127.85 60.8 126.8ZM61.34 124.05 65.14 124.05 65.66 124.77 65.66 128.57 61.86 128.57 61.34 127.85ZM61.86 124.77 65.66 124.77 66.16 125.26 66.16 129.06 62.36 129.06 61.86 128.57ZM62.36 125.26 66.16 125.26 66.67 125.6 66.67 129.4 62.87 129.4 62.36 129.06ZM62.87 125.6 66.67 125.6 67.21 125.89 67.21 129.69 63.41 129.69 62.87 129.4ZM63.41 125.89 67.21 125.89 67.8 126.2 67.8 130 64 130 63.41 129.69ZM64 126.2 67.8 126.2 68.44 126.55 68.44 130.35 64.64 130.35 64 130ZM64.64 126.55 68.44 126.55 69.11 126.87 69.11 130.67 65.31 130.67 64.64 130.35ZM65.31 126.87 69.11 126.87 69.82 127.12 69.82 130.92 66.02 130.92 65.31 130.67ZM66.02 127.12 69.82 127.12 70.55 127.3 70.55 131.1 66.75 131.1 66.02 130.92ZM66.75 127.3 70.55 127.3 71.31 127.37 71.31 131.17 67.51 131.17 66.75 131.1ZM67.51 127.37 68.3 127.3 72.1 127.3 72.1 131.1 71.31 131.17 67.51 131.17ZM68.3 127.3 69.13 127.05 72.93 127.05 72.93 130.85 72.1 131.1 68.3 131.1ZM69.13 127.05 69.99 126.62 73.79 126.62 73.79 130.42 72.93 130.85 69.13 130.85ZM69.99 126.62 70.89 126.09 74.69 126.09 74.69 129.89 73.79 130.42 69.99 130.42ZM70.89 126.09 71.8 125.51 75.6 125.51 75.6 129.31 74.69 129.89 70.89 129.89ZM71.8 125.51 72.71 124.96 76.51 124.96 76.51 128.76 75.6 129.31 71.8 129.31ZM72.71 124.96 73.6 124.5 77.4 124.5 77.4 128.3 76.51 128.76 72.71 128.76ZM73.6 124.5 74.48 124.11 78.28 124.11 78.28 127.91 77.4 128.3 73.6 128.3ZM74.48 124.11 75.37 123.73 79.17 123.73 79.17 127.53 78.28 127.91 74.48 127.91ZM75.37 123.73 76.25 123.38 80.05 123.38 80.05 127.18 79.17 127.53 75.37 127.53ZM76.25 123.38 77.13 123.06 80.93 123.06 80.93 126.86 80.05 127.18 76.25 127.18ZM77.13 123.06 78.02 122.8 81.82 122.8 81.82 126.6 80.93 126.86 77.13 126.86ZM78.02 122.8 78.9 122.6 82.7 122.6 82.7 126.4 81.82 126.6 78.02 126.6ZM78.9 122.6 79.78 122.47 83.58 122.47 83.58 126.27 82.7 126.4 78.9 126.4ZM79.78 122.47 80.67 122.4 84.47 122.4 84.47 126.2 83.58 126.27 79.78 126.27ZM80.67 122.4 81.55 122.39 85.35 122.39 85.35 126.19 84.47 126.2 80.67 126.2ZM81.55 122.39 85.35 122.39 86.23 122.42 86.23 126.22 82.43 126.22 81.55 126.19ZM82.43 122.42 86.23 122.42 87.12 122.49 87.12 126.29 83.32 126.29 82.43 126.22ZM83.32 122.49 87.12 122.49 88 122.6 88 126.4 84.2 126.4 83.32 126.29ZM84.2 122.6 88 122.6 88.89 122.77 88.89 126.57 85.09 126.57 84.2 126.4ZM85.09 122.77 88.89 122.77 89.8 123 89.8 126.8 86 126.8 85.09 126.57ZM86 123 89.8 123 90.71 123.28 90.71 127.08 86.91 127.08 86 126.8ZM86.91 123.28 90.71 123.28 91.61 123.57 91.61 127.37 87.81 127.37 86.91 127.08ZM87.81 123.57 91.61 123.57 92.47 123.86 92.47 127.66 88.67 127.66 87.81 127.37ZM88.67 123.86 92.47 123.86 93.3 124.1 93.3 127.9 89.5 127.9 88.67 127.66ZM89.5 124.1 93.3 124.1 94.06 124.36 94.06 128.16 90.26 128.16 89.5 127.9ZM90.26 124.36 94.06 124.36 94.77 124.68 94.77 128.48 90.97 128.48 90.26 128.16ZM90.97 124.68 94.77 124.68 95.45 124.99 95.45 128.79 91.65 128.79 90.97 128.48ZM91.65 124.99 95.45 124.99 96.13 125.22 96.13 129.02 92.33 129.02 91.65 128.79ZM92.33 125.22 96.13 125.22 96.84 125.31 96.84 129.11 93.04 129.11 92.33 129.02ZM93.04 125.31 93.8 125.2 97.6 125.2 97.6 129 96.84 129.11 93.04 129.11ZM93.8 125.2 94.63 124.83 98.43 124.83 98.43 128.63 97.6 129 93.8 129ZM94.63 124.83 95.49 124.24 99.29 124.24 99.29 128.04 98.43 128.63 94.63 128.63ZM95.49 124.24 96.39 123.52 100.19 123.52 100.19 127.32 99.29 128.04 95.49 128.04ZM96.39 123.52 97.3 122.73 101.1 122.73 101.1 126.53 100.19 127.32 96.39 127.32ZM97.3 122.73 98.21 121.97 102.01 121.97 102.01 125.77 101.1 126.53 97.3 126.53ZM98.21 121.97 99.1 121.3 102.9 121.3 102.9 125.1 102.01 125.77 98.21 125.77ZM99.1 121.3 99.99 120.71 103.79 120.71 103.79 124.51 102.9 125.1 99.1 125.1ZM99.99 120.71 100.89 120.13 104.69 120.13 104.69 123.93 103.79 124.51 99.99 124.51ZM100.89 120.13 101.79 119.58 105.59 119.58 105.59 123.38 104.69 123.93 100.89 123.93ZM101.79 119.58 102.68 119.04 106.48 119.04 106.48 122.84 105.59 123.38 101.79 123.38ZM102.68 119.04 103.55 118.55 107.35 118.55 107.35 122.35 106.48 122.84 102.68 122.84ZM103.55 118.55 104.4 118.1 108.2 118.1 108.2 121.9 107.35 122.35 103.55 122.35ZM104.4 118.1 105.27 117.69 109.07 117.69 109.07 121.49 108.2 121.9 104.4 121.9ZM105.27 117.69 106.19 117.3 109.99 117.3 109.99 121.1 109.07 121.49 105.27 121.49ZM106.19 117.3 107.08 116.95 110.88 116.95 110.88 120.75 109.99 121.1 106.19 121.1ZM107.08 116.95 107.9 116.64 111.7 116.64 111.7 120.44 110.88 120.75 107.08 120.75ZM107.9 116.64 108.6 116.39 112.4 116.39 112.4 120.19 111.7 120.44 107.9 120.44ZM108.6 116.39 109.1 116.2 112.9 116.2 112.9 120 112.4 120.19 108.6 120.19Z" fill="#0000ff"/>
<rect x="35" y="77" width="81.5" height="67.5" fill="none" stroke="#444"/>
<text x="113.5" y="89" class="t">C24&#160;&#160;MEO</text>
<text x="31.2" y="137.9" class="yl">-10</text>
<text x="31.2" y="110.9" class="yl">-5</text>
<text x="31.2" y="83.9" class="yl">0</text>
<line x1="138.5" y1="135.12" x2="218.5" y2="135.12" stroke="#c4c4c4" stroke-dasharray="1 2.3"/>
<line x1="138.5" y1="125.75" x2="218.5" y2="125.75" stroke="#c4c4c4" stroke-dasharray="1.3 3.6"/>
<line x1="138.5" y1="116.38" x2="218.5" y2="116.38" stroke="#c4c4c4" stroke-dasharray="1 2.3"/>
<line x1="138.5" y1="107" x2="218.5" y2="107" stroke="#c4c4c4" stroke-dasharray="1.3 3.6"/>
<line x1="138.5" y1="97.62" x2="218.5" y2="97.62" stroke="#c4c4c4" stroke-dasharray="1 2.3"/>
<line x1="138.5" y1="88.25" x2="218.5" y2="88.25" stroke="#c4c4c4" stroke-dasharray="1.3 3.6"/>
<line x1="138.5" y1="78.88" x2="218.5" y2="78.88" stroke="#c4c4c4" stroke-dasharray="1 2.3"/>
<path d="M137.5 135.12h2M219.5 135.12h-2" stroke="#333"/>
<path d="M137.5 125.75h3.5M219.5 125.75h-3.5" stroke="#333"/>
<path d="M137.5 116.38h2M219.5 116.38h-2" stroke="#333"/>
<path d="M137.5 107h3.5M219.5 107h-3.5" stroke="#333"/>
<path d="M137.5 97.62h2M219.5 97.62h-2" stroke="#333"/>
<path d="M137.5 88.25h3.5M219.5 88.25h-3.5" stroke="#333"/>
<path d="M137.5 78.88h2M219.5 78.88h-2" stroke="#333"/>
<path d="M143.81 77v3M143.81 144.5v-3" stroke="#333"/>
<path d="M156.42 77v1.5M156.42 144.5v-1.5" stroke="#333"/>
<path d="M169.04 77v3M169.04 144.5v-3" stroke="#333"/>
<path d="M181.65 77v1.5M181.65 144.5v-1.5" stroke="#333"/>
<path d="M194.27 77v3M194.27 144.5v-3" stroke="#333"/>
<path d="M206.88 77v1.5M206.88 144.5v-1.5" stroke="#333"/>
<path d="M142.6 108.1 146.4 108.1 214 129.3 214 133.1 210.2 133.1 142.6 111.9Z" fill="#0000ff"/>
<rect x="137.5" y="77" width="82" height="67.5" fill="none" stroke="#444"/>
<text x="216.5" y="89" class="t">C25&#160;&#160;MEO</text>
<text x="133.7" y="151.4" class="yl">-10</text>
<text x="133.7" y="132.65" class="yl">-5</text>
<text x="133.7" y="113.9" class="yl">0</text>
<text x="133.7" y="95.15" class="yl">5</text>
<line x1="241.5" y1="139.31" x2="321.5" y2="139.31" stroke="#c4c4c4" stroke-dasharray="1.3 3.6"/>
<line x1="241.5" y1="126.33" x2="321.5" y2="126.33" stroke="#c4c4c4" stroke-dasharray="1 2.3"/>
<line x1="241.5" y1="113.35" x2="321.5" y2="113.35" stroke="#c4c4c4" stroke-dasharray="1.3 3.6"/>
<line x1="241.5" y1="100.37" x2="321.5" y2="100.37" stroke="#c4c4c4" stroke-dasharray="1 2.3"/>
<line x1="241.5" y1="87.38" x2="321.5" y2="87.38" stroke="#c4c4c4" stroke-dasharray="1.3 3.6"/>
<path d="M240.5 139.31h3.5M322.5 139.31h-3.5" stroke="#333"/>
<path d="M240.5 126.33h2M322.5 126.33h-2" stroke="#333"/>
<path d="M240.5 113.35h3.5M322.5 113.35h-3.5" stroke="#333"/>
<path d="M240.5 100.37h2M322.5 100.37h-2" stroke="#333"/>
<path d="M240.5 87.38h3.5M322.5 87.38h-3.5" stroke="#333"/>
<path d="M252.21 77v3M252.21 144.5v-3" stroke="#333"/>
<path d="M263.93 77v1.5M263.93 144.5v-1.5" stroke="#333"/>
<path d="M275.64 77v3M275.64 144.5v-3" stroke="#333"/>
<path d="M287.36 77v1.5M287.36 144.5v-1.5" stroke="#333"/>
<path d="M299.07 77v3M299.07 144.5v-3" stroke="#333"/>
<path d="M310.79 77v1.5M310.79 144.5v-1.5" stroke="#333"/>
<path d="M251.2 132.9 314.4 99.1 318.2 99.1 318.2 102.9 255 136.7 251.2 136.7Z" fill="#0000ff"/>
<rect x="240.5" y="77" width="82" height="67.5" fill="none" stroke="#444"/>
<text x="319.5" y="89" class="t">C26&#160;&#160;MEO</text>
<text x="236.7" y="146.21" class="yl">0</text>
<text x="236.7" y="120.25" class="yl">5</text>
<text x="236.7" y="94.28" class="yl">10</text>
<line x1="344.5" y1="133.25" x2="424" y2="133.25" stroke="#c4c4c4" stroke-dasharray="1.3 3.6"/>
<line x1="344.5" y1="119.19" x2="424" y2="119.19" stroke="#c4c4c4" stroke-dasharray="1 2.3"/>
<line x1="344.5" y1="105.12" x2="424" y2="105.12" stroke="#c4c4c4" stroke-dasharray="1.3 3.6"/>
<line x1="344.5" y1="91.06" x2="424" y2="91.06" stroke="#c4c4c4" stroke-dasharray="1 2.3"/>
<path d="M343.5 133.25h3.5M425 133.25h-3.5" stroke="#333"/>
<path d="M343.5 119.19h2M425 119.19h-2" stroke="#333"/>
<path d="M343.5 105.12h3.5M425 105.12h-3.5" stroke="#333"/>
<path d="M343.5 91.06h2M425 91.06h-2" stroke="#333"/>
<path d="M349.77 77v3M349.77 144.5v-3" stroke="#333"/>
<path d="M362.31 77v1.5M362.31 144.5v-1.5" stroke="#333"/>
<path d="M374.85 77v3M374.85 144.5v-3" stroke="#333"/>
<path d="M387.38 77v1.5M387.38 144.5v-1.5" stroke="#333"/>
<path d="M399.92 77v3M399.92 144.5v-3" stroke="#333"/>
<path d="M412.46 77v1.5M412.46 144.5v-1.5" stroke="#333"/>
<path d="M347.9 128.8 415.8 111.3 419.6 111.3 419.6 115.1 351.7 132.6 347.9 132.6Z" fill="#0000ff"/>
<rect x="343.5" y="77" width="81.5" height="67.5" fill="none" stroke="#444"/>
<text x="422" y="89" class="t">C27&#160;&#160;MEO</text>
<text x="339.7" y="140.15" class="yl">0</text>
<text x="339.7" y="112.03" class="yl">5</text>
<text x="339.7" y="83.9" class="yl">10</text>
<line x1="447.5" y1="136.56" x2="526.5" y2="136.56" stroke="#c4c4c4" stroke-dasharray="1.3 3.6"/>
<line x1="447.5" y1="126.63" x2="526.5" y2="126.63" stroke="#c4c4c4" stroke-dasharray="1 2.3"/>
<line x1="447.5" y1="116.71" x2="526.5" y2="116.71" stroke="#c4c4c4" stroke-dasharray="1.3 3.6"/>
<line x1="447.5" y1="106.78" x2="526.5" y2="106.78" stroke="#c4c4c4" stroke-dasharray="1 2.3"/>
<line x1="447.5" y1="96.85" x2="526.5" y2="96.85" stroke="#c4c4c4" stroke-dasharray="1.3 3.6"/>
<line x1="447.5" y1="86.93" x2="526.5" y2="86.93" stroke="#c4c4c4" stroke-dasharray="1 2.3"/>
<path d="M446.5 136.56h3.5M527.5 136.56h-3.5" stroke="#333"/>
<path d="M446.5 126.63h2M527.5 126.63h-2" stroke="#333"/>
<path d="M446.5 116.71h3.5M527.5 116.71h-3.5" stroke="#333"/>
<path d="M446.5 106.78h2M527.5 106.78h-2" stroke="#333"/>
<path d="M446.5 96.85h3.5M527.5 96.85h-3.5" stroke="#333"/>
<path d="M446.5 86.93h2M527.5 86.93h-2" stroke="#333"/>
<path d="M452.73 77v3M452.73 144.5v-3" stroke="#333"/>
<path d="M465.19 77v1.5M465.19 144.5v-1.5" stroke="#333"/>
<path d="M477.65 77v3M477.65 144.5v-3" stroke="#333"/>
<path d="M490.12 77v1.5M490.12 144.5v-1.5" stroke="#333"/>
<path d="M502.58 77v3M502.58 144.5v-3" stroke="#333"/>
<path d="M515.04 77v1.5M515.04 144.5v-1.5" stroke="#333"/>
<path d="M450.9 112.7 512.4 102.1 516.2 102.1 516.2 105.9 454.7 116.5 450.9 116.5Z" fill="#0000ff"/>
<path d="M513.4 123.9 518.7 122.8 522.5 122.8 522.5 126.6 517.2 127.7 513.4 127.7Z" fill="#0000ff"/>
<rect x="446.5" y="77" width="81" height="67.5" fill="none" stroke="#444"/>
<text x="524.5" y="89" class="t">C28&#160;&#160;MEO</text>
<text x="442.7" y="143.46" class="yl">-5</text>
<text x="442.7" y="123.61" class="yl">0</text>
<text x="442.7" y="103.75" class="yl">5</text>
<text x="442.7" y="83.9" class="yl">10</text>
<line x1="36" y1="210.06" x2="115.5" y2="210.06" stroke="#c4c4c4" stroke-dasharray="1.3 3.6"/>
<line x1="36" y1="201.62" x2="115.5" y2="201.62" stroke="#c4c4c4" stroke-dasharray="1 2.3"/>
<line x1="36" y1="193.19" x2="115.5" y2="193.19" stroke="#c4c4c4" stroke-dasharray="1.3 3.6"/>
<line x1="36" y1="184.75" x2="115.5" y2="184.75" stroke="#c4c4c4" stroke-dasharray="1 2.3"/>
<line x1="36" y1="176.31" x2="115.5" y2="176.31" stroke="#c4c4c4" stroke-dasharray="1.3 3.6"/>
<line x1="36" y1="167.88" x2="115.5" y2="167.88" stroke="#c4c4c4" stroke-dasharray="1 2.3"/>
<line x1="36" y1="159.44" x2="115.5" y2="159.44" stroke="#c4c4c4" stroke-dasharray="1.3 3.6"/>
<path d="M35 210.06h3.5M116.5 210.06h-3.5" stroke="#333"/>
<path d="M35 201.62h2M116.5 201.62h-2" stroke="#333"/>
<path d="M35 193.19h3.5M116.5 193.19h-3.5" stroke="#333"/>
<path d="M35 184.75h2M116.5 184.75h-2" stroke="#333"/>
<path d="M35 176.31h3.5M116.5 176.31h-3.5" stroke="#333"/>
<path d="M35 167.88h2M116.5 167.88h-2" stroke="#333"/>
<path d="M35 159.44h3.5M116.5 159.44h-3.5" stroke="#333"/>
<path d="M46.64 151v3M46.64 218.5v-3" stroke="#333"/>
<path d="M58.29 151v1.5M58.29 218.5v-1.5" stroke="#333"/>
<path d="M69.93 151v3M69.93 218.5v-3" stroke="#333"/>
<path d="M81.57 151v1.5M81.57 218.5v-1.5" stroke="#333"/>
<path d="M93.21 151v3M93.21 218.5v-3" stroke="#333"/>
<path d="M104.86 151v1.5M104.86 218.5v-1.5" stroke="#333"/>
<path d="M44.9 207.2 48.37 204.91 52.17 204.91 52.17 208.71 48.7 211 44.9 211ZM48.37 204.91 53.17 201.73 56.97 201.73 56.97 205.53 52.17 208.71 48.37 208.71ZM53.17 201.73 58.86 197.97 62.66 197.97 62.66 201.78 56.97 205.53 53.17 205.53ZM58.86 197.97 64.99 193.93 68.79 193.93 68.79 197.73 62.66 201.78 58.86 201.78ZM64.99 193.93 71.11 189.91 74.91 189.91 74.91 193.71 68.79 197.73 64.99 197.73ZM71.11 189.91 76.8 186.2 80.6 186.2 80.6 190 74.91 193.71 71.11 193.71ZM76.8 186.2 82.49 182.53 86.29 182.53 86.29 186.33 80.6 190 76.8 190ZM82.49 182.53 88.61 178.6 92.41 178.6 92.41 182.4 86.29 186.33 82.49 186.33ZM88.61 178.6 94.74 174.69 98.54 174.69 98.54 178.49 92.41 182.4 88.61 182.4ZM94.74 174.69 100.43 171.07 104.23 171.07 104.23 174.87 98.54 178.49 94.74 178.49ZM100.43 171.07 105.23 168.01 109.03 168.01 109.03 171.81 104.23 174.87 100.43 174.87ZM105.23 168.01 108.7 165.8 112.5 165.8 112.5 169.6 109.03 171.81 105.23 171.81Z" fill="#0000ff"/>
<rect x="35" y="151" width="81.5" height="67.5" fill="none" stroke="#444"/>
<text x="113.5" y="163" class="t">C29&#160;&#160;MEO</text>
<text x="31.2" y="216.96" class="yl">0</text>
<text x="31.2" y="200.09" class="yl">1</text>
<text x="31.2" y="183.21" class="yl">2</text>
<text x="31.2" y="166.34" class="yl">3</text>
<line x1="138.5" y1="205" x2="218.5" y2="205" stroke="#c4c4c4" stroke-dasharray="1 2.3"/>
<line x1="138.5" y1="191.5" x2="218.5" y2="191.5" stroke="#c4c4c4" stroke-dasharray="1.3 3.6"/>
<line x1="138.5" y1="178" x2="218.5" y2="178" stroke="#c4c4c4" stroke-dasharray="1 2.3"/>
<line x1="138.5" y1="164.5" x2="218.5" y2="164.5" stroke="#c4c4c4" stroke-dasharray="1.3 3.6"/>
<path d="M137.5 205h2M219.5 205h-2" stroke="#333"/>
<path d="M137.5 191.5h3.5M219.5 191.5h-3.5" stroke="#333"/>
<path d="M137.5 178h2M219.5 178h-2" stroke="#333"/>
<path d="M137.5 164.5h3.5M219.5 164.5h-3.5" stroke="#333"/>
<path d="M149.21 151v3M149.21 218.5v-3" stroke="#333"/>
<path d="M160.93 151v1.5M160.93 218.5v-1.5" stroke="#333"/>
<path d="M172.64 151v3M172.64 218.5v-3" stroke="#333"/>
<path d="M184.36 151v1.5M184.36 218.5v-1.5" stroke="#333"/>
<path d="M196.07 151v3M196.07 218.5v-3" stroke="#333"/>
<path d="M207.79 151v1.5M207.79 218.5v-1.5" stroke="#333"/>
<path d="M147.9 209.8 149.52 208.76 153.32 208.76 153.32 212.56 151.7 213.6 147.9 213.6ZM149.52 208.76 151.76 207.33 155.56 207.33 155.56 211.13 153.32 212.56 149.52 212.56ZM151.76 207.33 154.42 205.62 158.22 205.62 158.22 209.42 155.56 211.13 151.76 211.13ZM154.42 205.62 157.28 203.79 161.08 203.79 161.08 207.59 158.22 209.42 154.42 209.42ZM157.28 203.79 160.14 201.93 163.94 201.93 163.94 205.73 161.08 207.59 157.28 207.59ZM160.14 201.93 162.8 200.2 166.6 200.2 166.6 204 163.94 205.73 160.14 205.73ZM162.8 200.2 165.26 198.56 169.06 198.56 169.06 202.36 166.6 204 162.8 204ZM165.26 198.56 167.69 196.9 171.49 196.9 171.49 200.7 169.06 202.36 165.26 202.36ZM167.69 196.9 170.12 195.24 173.92 195.24 173.92 199.04 171.49 200.7 167.69 200.7ZM170.12 195.24 172.58 193.56 176.38 193.56 176.38 197.36 173.92 199.04 170.12 199.04ZM172.58 193.56 175.1 191.88 178.9 191.88 178.9 195.68 176.38 197.36 172.58 197.36ZM175.1 191.88 177.7 190.2 181.5 190.2 181.5 194 178.9 195.68 175.1 195.68ZM177.7 190.2 180.41 188.5 184.21 188.5 184.21 192.3 181.5 194 177.7 194ZM180.41 188.5 183.21 186.79 187.01 186.79 187.01 190.59 184.21 192.3 180.41 192.3ZM183.21 186.79 186.07 185.07 189.87 185.07 189.87 188.88 187.01 190.59 183.21 190.59ZM186.07 185.07 188.96 183.36 192.76 183.36 192.76 187.16 189.87 188.88 186.07 188.88ZM188.96 183.36 191.84 181.67 195.64 181.67 195.64 185.47 192.76 187.16 188.96 187.16ZM191.84 181.67 194.7 180 198.5 180 198.5 183.8 195.64 185.47 191.84 185.47ZM194.7 180 197.73 178.25 201.53 178.25 201.53 182.05 198.5 183.8 194.7 183.8ZM197.73 178.25 201 176.4 204.8 176.4 204.8 180.2 201.53 182.05 197.73 182.05ZM201 176.4 204.26 174.56 208.06 174.56 208.06 178.36 204.8 180.2 201 180.2ZM204.26 174.56 207.29 172.87 211.09 172.87 211.09 176.67 208.06 178.36 204.26 178.36ZM207.29 172.87 209.85 171.44 213.65 171.44 213.65 175.24 211.09 176.67 207.29 176.67ZM209.85 171.44 211.7 170.4 215.5 170.4 215.5 174.2 213.65 175.24 209.85 175.24Z" fill="#0000ff"/>
<rect x="137.5" y="151" width="82" height="67.5" fill="none" stroke="#444"/>
<text x="216.5" y="163" class="t">C30&#160;&#160;MEO</text>
<text x="133.7" y="225.4" class="yl">0</text>
<text x="133.7" y="198.4" class="yl">2</text>
<text x="133.7" y="171.4" class="yl">4</text>
<line x1="241.5" y1="201.62" x2="321.5" y2="201.62" stroke="#c4c4c4" stroke-dasharray="1 2.3"/>
<line x1="241.5" y1="184.75" x2="321.5" y2="184.75" stroke="#c4c4c4" stroke-dasharray="1.3 3.6"/>
<line x1="241.5" y1="167.88" x2="321.5" y2="167.88" stroke="#c4c4c4" stroke-dasharray="1 2.3"/>
<path d="M240.5 201.62h2M322.5 201.62h-2" stroke="#333"/>
<path d="M240.5 184.75h3.5M322.5 184.75h-3.5" stroke="#333"/>
<path d="M240.5 167.88h2M322.5 167.88h-2" stroke="#333"/>
<path d="M252.21 151v3M252.21 218.5v-3" stroke="#333"/>
<path d="M263.93 151v1.5M263.93 218.5v-1.5" stroke="#333"/>
<path d="M275.64 151v3M275.64 218.5v-3" stroke="#333"/>
<path d="M287.36 151v1.5M287.36 218.5v-1.5" stroke="#333"/>
<path d="M299.07 151v3M299.07 218.5v-3" stroke="#333"/>
<path d="M310.79 151v1.5M310.79 218.5v-1.5" stroke="#333"/>
<path d="M250.9 160.4 254.7 160.4 255.16 161.36 255.16 165.16 251.36 165.16 250.9 164.2ZM251.36 161.36 255.16 161.36 255.79 162.67 255.79 166.47 251.99 166.47 251.36 165.16ZM251.99 162.67 255.79 162.67 256.53 164.24 256.53 168.04 252.73 168.04 251.99 166.47ZM252.73 164.24 256.53 164.24 257.34 165.95 257.34 169.75 253.54 169.75 252.73 168.04ZM253.54 165.95 257.34 165.95 258.15 167.7 258.15 171.5 254.35 171.5 253.54 169.75ZM254.35 167.7 258.15 167.7 258.9 169.4 258.9 173.2 255.1 173.2 254.35 171.5ZM255.1 169.4 258.9 169.4 259.61 171.04 259.61 174.84 255.81 174.84 255.1 173.2ZM255.81 171.04 259.61 171.04 260.33 172.7 260.33 176.5 256.53 176.5 255.81 174.84ZM256.53 172.7 260.33 172.7 261.05 174.4 261.05 178.2 257.25 178.2 256.53 176.5ZM257.25 174.4 261.05 174.4 261.77 176.17 261.77 179.97 257.97 179.97 257.25 178.2ZM257.97 176.17 261.77 176.17 262.49 178.03 262.49 181.83 258.69 181.83 257.97 179.97ZM258.69 178.03 262.49 178.03 263.2 180 263.2 183.8 259.4 183.8 258.69 181.83ZM259.4 180 263.2 180 263.9 182.07 263.9 185.87 260.1 185.87 259.4 183.8ZM260.1 182.07 263.9 182.07 264.6 184.22 264.6 188.02 260.8 188.02 260.1 185.87ZM260.8 184.22 264.6 184.22 265.3 186.46 265.3 190.26 261.5 190.26 260.8 188.02ZM261.5 186.46 265.3 186.46 266 188.79 266 192.59 262.2 192.59 261.5 190.26ZM262.2 188.79 266 188.79 266.7 191.24 266.7 195.04 262.9 195.04 262.2 192.59ZM262.9 191.24 266.7 191.24 267.4 193.8 267.4 197.6 263.6 197.6 262.9 195.04ZM263.6 193.8 267.4 193.8 268.16 196.73 268.16 200.53 264.36 200.53 263.6 197.6ZM264.36 196.73 268.16 196.73 268.99 200.07 268.99 203.87 265.19 203.87 264.36 200.53ZM265.19 200.07 268.99 200.07 269.81 203.51 269.81 207.31 266.01 207.31 265.19 203.87ZM266.01 203.51 269.81 203.51 270.58 206.77 270.58 210.57 266.78 210.57 266.01 207.31ZM266.78 206.77 270.58 206.77 271.23 209.53 271.23 213.33 267.43 213.33 266.78 210.57ZM267.43 209.53 271.23 209.53 271.7 211.5 271.7 215.3 267.9 215.3 267.43 213.33Z" fill="#0000ff"/>
<path d="M267.9 211.5 268.48 211.44 272.28 211.44 272.28 215.24 271.7 215.3 267.9 215.3ZM268.48 211.44 269.27 211.34 273.07 211.34 273.07 215.14 272.28 215.24 268.48 215.24ZM269.27 211.34 270.22 211.24 274.02 211.24 274.02 215.04 273.07 215.14 269.27 215.14ZM270.22 211.24 271.24 211.13 275.04 211.13 275.04 214.93 274.02 215.04 270.22 215.04ZM271.24 211.13 272.26 211.05 276.06 211.05 276.06 214.85 275.04 214.93 271.24 214.93ZM272.26 211.05 273.2 211 277 211 277 214.8 276.06 214.85 272.26 214.85ZM273.2 211 274.11 210.98 277.91 210.98 277.91 214.78 277 214.8 273.2 214.8ZM274.11 210.98 277.91 210.98 278.84 210.99 278.84 214.79 275.04 214.79 274.11 214.78ZM275.04 210.99 278.84 210.99 279.78 211.01 279.78 214.81 275.98 214.81 275.04 214.79ZM275.98 211.01 279.78 211.01 280.69 211.06 280.69 214.86 276.89 214.86 275.98 214.81ZM276.89 211.06 280.69 211.06 281.54 211.12 281.54 214.92 277.74 214.92 276.89 214.86ZM277.74 211.12 281.54 211.12 282.3 211.2 282.3 215 278.5 215 277.74 214.92ZM278.5 211.2 282.3 211.2 282.94 211.35 282.94 215.15 279.14 215.15 278.5 215ZM279.14 211.35 282.94 211.35 283.48 211.59 283.48 215.39 279.68 215.39 279.14 215.15ZM279.68 211.59 283.48 211.59 283.96 211.84 283.96 215.64 280.16 215.64 279.68 215.39ZM280.16 211.84 283.96 211.84 284.43 212.05 284.43 215.85 280.63 215.85 280.16 215.64ZM280.63 212.05 284.43 212.05 284.93 212.16 284.93 215.96 281.13 215.96 280.63 215.85ZM281.13 212.16 281.7 212.1 285.5 212.1 285.5 215.9 284.93 215.96 281.13 215.96ZM281.7 212.1 282.33 211.83 286.13 211.83 286.13 215.63 285.5 215.9 281.7 215.9ZM282.33 211.83 282.97 211.4 286.77 211.4 286.77 215.2 286.13 215.63 282.33 215.63ZM282.97 211.4 283.65 210.86 287.45 210.86 287.45 214.66 286.77 215.2 282.97 215.2ZM283.65 210.86 284.37 210.29 288.17 210.29 288.17 214.09 287.45 214.66 283.65 214.66ZM284.37 210.29 285.15 209.75 288.95 209.75 288.95 213.55 288.17 214.09 284.37 214.09ZM285.15 209.75 286 209.3 289.8 209.3 289.8 213.1 288.95 213.55 285.15 213.55ZM286 209.3 286.96 208.92 290.76 208.92 290.76 212.72 289.8 213.1 286 213.1ZM286.96 208.92 288.02 208.53 291.82 208.53 291.82 212.33 290.76 212.72 286.96 212.72ZM288.02 208.53 289.14 208.18 292.94 208.18 292.94 211.98 291.82 212.33 288.02 212.33ZM289.14 208.18 290.27 207.89 294.07 207.89 294.07 211.69 292.94 211.98 289.14 211.98ZM290.27 207.89 291.37 207.69 295.17 207.69 295.17 211.49 294.07 211.69 290.27 211.69ZM291.37 207.69 292.4 207.6 296.2 207.6 296.2 211.4 295.17 211.49 291.37 211.49ZM292.4 207.6 296.2 207.6 297.15 207.65 297.15 211.45 293.35 211.45 292.4 211.4ZM293.35 207.65 297.15 207.65 298.05 207.81 298.05 211.61 294.25 211.61 293.35 211.45ZM294.25 207.81 298.05 207.81 298.92 208.07 298.92 211.87 295.12 211.87 294.25 211.61ZM295.12 208.07 298.92 208.07 299.77 208.39 299.77 212.19 295.97 212.19 295.12 211.87ZM295.97 208.39 299.77 208.39 300.63 208.74 300.63 212.54 296.83 212.54 295.97 212.19ZM296.83 208.74 300.63 208.74 301.5 209.1 301.5 212.9 297.7 212.9 296.83 212.54ZM297.7 209.1 301.5 209.1 302.38 209.55 302.38 213.35 298.58 213.35 297.7 212.9ZM298.58 209.55 302.38 209.55 303.27 210.13 303.27 213.93 299.47 213.93 298.58 213.35ZM299.47 210.13 303.27 210.13 304.15 210.74 304.15 214.54 300.35 214.54 299.47 213.93ZM300.35 210.74 304.15 210.74 305.03 211.3 305.03 215.1 301.23 215.1 300.35 214.54ZM301.23 211.3 305.03 211.3 305.92 211.72 305.92 215.52 302.12 215.52 301.23 215.1ZM302.12 211.72 305.92 211.72 306.8 211.9 306.8 215.7 303 215.7 302.12 215.52ZM303 211.9 303.88 211.78 307.68 211.78 307.68 215.58 306.8 215.7 303 215.7ZM303.88 211.78 304.76 211.41 308.56 211.41 308.56 215.21 307.68 215.58 303.88 215.58ZM304.76 211.41 305.63 210.9 309.43 210.9 309.43 214.7 308.56 215.21 304.76 215.21ZM305.63 210.9 306.51 210.34 310.31 210.34 310.31 214.14 309.43 214.7 305.63 214.7ZM306.51 210.34 307.4 209.84 311.2 209.84 311.2 213.64 310.31 214.14 306.51 214.14ZM307.4 209.84 308.3 209.5 312.1 209.5 312.1 213.3 311.2 213.64 307.4 213.64ZM308.3 209.5 309.28 209.31 313.08 209.31 313.08 213.11 312.1 213.3 308.3 213.3ZM309.28 209.31 310.35 209.2 314.15 209.2 314.15 213 313.08 213.11 309.28 213.11ZM310.35 209.2 311.43 209.15 315.23 209.15 315.23 212.95 314.15 213 310.35 213ZM311.43 209.15 312.44 209.13 316.24 209.13 316.24 212.93 315.23 212.95 311.43 212.95ZM312.44 209.13 313.29 209.12 317.09 209.12 317.09 212.92 316.24 212.93 312.44 212.93ZM313.29 209.12 313.9 209.1 317.7 209.1 317.7 212.9 317.09 212.92 313.29 212.92Z" fill="#0000ff"/>
<rect x="240.5" y="151" width="82" height="67.5" fill="none" stroke="#444"/>
<text x="319.5" y="163" class="t">C32&#160;&#160;MEO</text>
<text x="236.7" y="225.4" class="yl">-10</text>
<text x="236.7" y="191.65" class="yl">-5</text>
<text x="236.7" y="157.9" class="yl">0</text>
<text x="248.2" y="232.1" class="xl">0</text>
<text x="271.43" y="232.1" class="xl">200</text>
<text x="294.66" y="232.1" class="xl">400</text>
<text x="317.89" y="232.1" class="xl">600</text>
<text x="279.5" y="244.8" class="xl">DAY</text>
<line x1="344.5" y1="207.25" x2="424" y2="207.25" stroke="#c4c4c4" stroke-dasharray="1.3 3.6"/>
<line x1="344.5" y1="196" x2="424" y2="196" stroke="#c4c4c4" stroke-dasharray="1 2.3"/>
<line x1="344.5" y1="184.75" x2="424" y2="184.75" stroke="#c4c4c4" stroke-dasharray="1.3 3.6"/>
<line x1="344.5" y1="173.5" x2="424" y2="173.5" stroke="#c4c4c4" stroke-dasharray="1 2.3"/>
<line x1="344.5" y1="162.25" x2="424" y2="162.25" stroke="#c4c4c4" stroke-dasharray="1.3 3.6"/>
<path d="M343.5 207.25h3.5M425 207.25h-3.5" stroke="#333"/>
<path d="M343.5 196h2M425 196h-2" stroke="#333"/>
<path d="M343.5 184.75h3.5M425 184.75h-3.5" stroke="#333"/>
<path d="M343.5 173.5h2M425 173.5h-2" stroke="#333"/>
<path d="M343.5 162.25h3.5M425 162.25h-3.5" stroke="#333"/>
<path d="M355.14 151v3M355.14 218.5v-3" stroke="#333"/>
<path d="M366.79 151v1.5M366.79 218.5v-1.5" stroke="#333"/>
<path d="M378.43 151v3M378.43 218.5v-3" stroke="#333"/>
<path d="M390.07 151v1.5M390.07 218.5v-1.5" stroke="#333"/>
<path d="M401.71 151v3M401.71 218.5v-3" stroke="#333"/>
<path d="M413.36 151v1.5M413.36 218.5v-1.5" stroke="#333"/>
<path d="M353.2 159.9 357 159.9 357.74 160.09 357.74 163.89 353.94 163.89 353.2 163.7ZM353.94 160.09 357.74 160.09 358.76 160.33 358.76 164.13 354.96 164.13 353.94 163.89ZM354.96 160.33 358.76 160.33 359.96 160.63 359.96 164.43 356.16 164.43 354.96 164.13ZM356.16 160.63 359.96 160.63 361.29 160.99 361.29 164.79 357.49 164.79 356.16 164.43ZM357.49 160.99 361.29 160.99 362.66 161.41 362.66 165.21 358.86 165.21 357.49 164.79ZM358.86 161.41 362.66 161.41 364 161.9 364 165.7 360.2 165.7 358.86 165.21ZM360.2 161.9 364 161.9 365.34 162.46 365.34 166.26 361.54 166.26 360.2 165.7ZM361.54 162.46 365.34 162.46 366.75 163.09 366.75 166.89 362.95 166.89 361.54 166.26ZM362.95 163.09 366.75 163.09 368.21 163.78 368.21 167.58 364.41 167.58 362.95 166.89ZM364.41 163.78 368.21 163.78 369.68 164.53 369.68 168.33 365.88 168.33 364.41 167.58ZM365.88 164.53 369.68 164.53 371.15 165.34 371.15 169.14 367.35 169.14 365.88 168.33ZM367.35 165.34 371.15 165.34 372.6 166.2 372.6 170 368.8 170 367.35 169.14ZM368.8 166.2 372.6 166.2 374.02 167.12 374.02 170.92 370.22 170.92 368.8 170ZM370.22 167.12 374.02 167.12 375.44 168.1 375.44 171.9 371.64 171.9 370.22 170.92ZM371.64 168.1 375.44 168.1 376.86 169.14 376.86 172.94 373.06 172.94 371.64 171.9ZM373.06 169.14 376.86 169.14 378.27 170.23 378.27 174.03 374.47 174.03 373.06 172.94ZM374.47 170.23 378.27 170.23 379.68 171.39 379.68 175.19 375.88 175.19 374.47 174.03ZM375.88 171.39 379.68 171.39 381.1 172.6 381.1 176.4 377.3 176.4 375.88 175.19ZM377.3 172.6 381.1 172.6 382.52 173.86 382.52 177.66 378.72 177.66 377.3 176.4ZM378.72 173.86 382.52 173.86 383.93 175.16 383.93 178.96 380.13 178.96 378.72 177.66ZM380.13 175.16 383.93 175.16 385.35 176.52 385.35 180.32 381.55 180.32 380.13 178.96ZM381.55 176.52 385.35 176.52 386.77 177.95 386.77 181.75 382.97 181.75 381.55 180.32ZM382.97 177.95 386.77 177.95 388.18 179.47 388.18 183.27 384.38 183.27 382.97 181.75ZM384.38 179.47 388.18 179.47 389.6 181.1 389.6 184.9 385.8 184.9 384.38 183.27ZM385.8 181.1 389.6 181.1 391.04 182.88 391.04 186.68 387.24 186.68 385.8 184.9ZM387.24 182.88 391.04 182.88 392.5 184.82 392.5 188.62 388.7 188.62 387.24 186.68ZM388.7 184.82 392.5 184.82 393.96 186.84 393.96 190.64 390.16 190.64 388.7 188.62ZM390.16 186.84 393.96 186.84 395.39 188.89 395.39 192.69 391.59 192.69 390.16 190.64ZM391.59 188.89 395.39 188.89 396.78 190.9 396.78 194.7 392.98 194.7 391.59 192.69ZM392.98 190.9 396.78 190.9 398.1 192.8 398.1 196.6 394.3 196.6 392.98 194.7ZM394.3 192.8 398.1 192.8 399.41 194.7 399.41 198.5 395.61 198.5 394.3 196.6ZM395.61 194.7 399.41 194.7 400.74 196.69 400.74 200.49 396.94 200.49 395.61 198.5ZM396.94 196.69 400.74 196.69 402.03 198.63 402.03 202.43 398.23 202.43 396.94 200.49ZM398.23 198.63 402.03 198.63 403.2 200.41 403.2 204.21 399.4 204.21 398.23 202.43ZM399.4 200.41 403.2 200.41 404.18 201.91 404.18 205.71 400.38 205.71 399.4 204.21ZM400.38 201.91 404.18 201.91 404.9 203 404.9 206.8 401.1 206.8 400.38 205.71Z" fill="#0000ff"/>
<path d="M401.1 203 401.76 202.69 405.56 202.69 405.56 206.49 404.9 206.8 401.1 206.8ZM401.76 202.69 402.68 202.26 406.48 202.26 406.48 206.06 405.56 206.49 401.76 206.49ZM402.68 202.26 403.77 201.76 407.57 201.76 407.57 205.56 406.48 206.06 402.68 206.06ZM403.77 201.76 404.93 201.21 408.73 201.21 408.73 205.01 407.57 205.56 403.77 205.56ZM404.93 201.21 406.07 200.68 409.87 200.68 409.87 204.48 408.73 205.01 404.93 205.01ZM406.07 200.68 407.1 200.2 410.9 200.2 410.9 204 409.87 204.48 406.07 204.48ZM407.1 200.2 408.03 199.75 411.83 199.75 411.83 203.55 410.9 204 407.1 204ZM408.03 199.75 408.95 199.29 412.75 199.29 412.75 203.09 411.83 203.55 408.03 203.55ZM408.95 199.29 409.84 198.83 413.64 198.83 413.64 202.63 412.75 203.09 408.95 203.09ZM409.84 198.83 410.72 198.4 414.52 198.4 414.52 202.2 413.64 202.63 409.84 202.63ZM410.72 198.4 411.57 198.02 415.37 198.02 415.37 201.82 414.52 202.2 410.72 202.2ZM411.57 198.02 412.4 197.7 416.2 197.7 416.2 201.5 415.37 201.82 411.57 201.82ZM412.4 197.7 413.25 197.45 417.05 197.45 417.05 201.25 416.2 201.5 412.4 201.5ZM413.25 197.45 414.13 197.25 417.93 197.25 417.93 201.05 417.05 201.25 413.25 201.25ZM414.13 197.25 414.98 197.09 418.78 197.09 418.78 200.89 417.93 201.05 414.13 201.05ZM414.98 197.09 415.76 196.97 419.56 196.97 419.56 200.77 418.78 200.89 414.98 200.89ZM415.76 196.97 416.42 196.88 420.22 196.88 420.22 200.68 419.56 200.77 415.76 200.77ZM416.42 196.88 416.9 196.8 420.7 196.8 420.7 200.6 420.22 200.68 416.42 200.68Z" fill="#0000ff"/>
<rect x="343.5" y="151" width="81.5" height="67.5" fill="none" stroke="#444"/>
<text x="422" y="163" class="t">C33&#160;&#160;MEO</text>
<text x="339.7" y="214.15" class="yl">-10</text>
<text x="339.7" y="191.65" class="yl">-5</text>
<text x="339.7" y="169.15" class="yl">0</text>
<text x="351.2" y="232.1" class="xl">0</text>
<text x="374.43" y="232.1" class="xl">200</text>
<text x="397.66" y="232.1" class="xl">400</text>
<text x="420.89" y="232.1" class="xl">600</text>
<text x="382.5" y="245.7" class="xl">DAY</text>
<line x1="447.5" y1="211.58" x2="526.5" y2="211.58" stroke="#c4c4c4" stroke-dasharray="1.3 3.6"/>
<line x1="447.5" y1="202.92" x2="526.5" y2="202.92" stroke="#c4c4c4" stroke-dasharray="1 2.3"/>
<line x1="447.5" y1="194.27" x2="526.5" y2="194.27" stroke="#c4c4c4" stroke-dasharray="1.3 3.6"/>
<line x1="447.5" y1="185.62" x2="526.5" y2="185.62" stroke="#c4c4c4" stroke-dasharray="1 2.3"/>
<line x1="447.5" y1="176.96" x2="526.5" y2="176.96" stroke="#c4c4c4" stroke-dasharray="1.3 3.6"/>
<line x1="447.5" y1="168.31" x2="526.5" y2="168.31" stroke="#c4c4c4" stroke-dasharray="1 2.3"/>
<line x1="447.5" y1="159.65" x2="526.5" y2="159.65" stroke="#c4c4c4" stroke-dasharray="1.3 3.6"/>
<path d="M446.5 211.58h3.5M527.5 211.58h-3.5" stroke="#333"/>
<path d="M446.5 202.92h2M527.5 202.92h-2" stroke="#333"/>
<path d="M446.5 194.27h3.5M527.5 194.27h-3.5" stroke="#333"/>
<path d="M446.5 185.62h2M527.5 185.62h-2" stroke="#333"/>
<path d="M446.5 176.96h3.5M527.5 176.96h-3.5" stroke="#333"/>
<path d="M446.5 168.31h2M527.5 168.31h-2" stroke="#333"/>
<path d="M446.5 159.65h3.5M527.5 159.65h-3.5" stroke="#333"/>
<path d="M458.07 151v3M458.07 218.5v-3" stroke="#333"/>
<path d="M469.64 151v1.5M469.64 218.5v-1.5" stroke="#333"/>
<path d="M481.21 151v3M481.21 218.5v-3" stroke="#333"/>
<path d="M492.79 151v1.5M492.79 218.5v-1.5" stroke="#333"/>
<path d="M504.36 151v3M504.36 218.5v-3" stroke="#333"/>
<path d="M515.93 151v1.5M515.93 218.5v-1.5" stroke="#333"/>
<path d="M455.8 157 459.6 157 460.87 157.88 460.87 161.68 457.07 161.68 455.8 160.8ZM457.07 157.88 460.87 157.88 462.63 159.1 462.63 162.9 458.83 162.9 457.07 161.68ZM458.83 159.1 462.63 159.1 464.72 160.54 464.72 164.34 460.92 164.34 458.83 162.9ZM460.92 160.54 464.72 160.54 466.97 162.1 466.97 165.9 463.17 165.9 460.92 164.34ZM463.17 162.1 466.97 162.1 469.21 163.66 469.21 167.46 465.41 167.46 463.17 165.9ZM465.41 163.66 469.21 163.66 471.3 165.1 471.3 168.9 467.5 168.9 465.41 167.46ZM467.5 165.1 471.3 165.1 473.25 166.43 473.25 170.23 469.45 170.23 467.5 168.9ZM469.45 166.43 473.25 166.43 475.2 167.75 475.2 171.55 471.4 171.55 469.45 170.23ZM471.4 167.75 475.2 167.75 477.15 169.07 477.15 172.87 473.35 172.87 471.4 171.55ZM473.35 169.07 477.15 169.07 479.1 170.4 479.1 174.2 475.3 174.2 473.35 172.87ZM475.3 170.4 479.1 170.4 481.05 171.77 481.05 175.57 477.25 175.57 475.3 174.2ZM477.25 171.77 481.05 171.77 483 173.2 483 177 479.2 177 477.25 175.57ZM479.2 173.2 483 173.2 484.95 174.69 484.95 178.49 481.15 178.49 479.2 177ZM481.15 174.69 484.95 174.69 486.9 176.22 486.9 180.02 483.1 180.02 481.15 178.49ZM483.1 176.22 486.9 176.22 488.85 177.79 488.85 181.59 485.05 181.59 483.1 180.02ZM485.05 177.79 488.85 177.79 490.8 179.39 490.8 183.19 487 183.19 485.05 181.59ZM487 179.39 490.8 179.39 492.75 181 492.75 184.8 488.95 184.8 487 183.19ZM488.95 181 492.75 181 494.7 182.6 494.7 186.4 490.9 186.4 488.95 184.8ZM490.9 182.6 494.7 182.6 496.67 184.24 496.67 188.04 492.87 188.04 490.9 186.4ZM492.87 184.24 496.67 184.24 498.68 185.95 498.68 189.75 494.88 189.75 492.87 188.04ZM494.88 185.95 498.68 185.95 500.68 187.66 500.68 191.46 496.88 191.46 494.88 189.75ZM496.88 187.66 500.68 187.66 502.66 189.34 502.66 193.14 498.86 193.14 496.88 191.46ZM498.86 189.34 502.66 189.34 504.57 190.94 504.57 194.74 500.77 194.74 498.86 193.14ZM500.77 190.94 504.57 190.94 506.4 192.4 506.4 196.2 502.6 196.2 500.77 194.74ZM502.6 192.4 506.4 192.4 508.15 193.72 508.15 197.52 504.35 197.52 502.6 196.2ZM504.35 193.72 508.15 193.72 509.86 194.94 509.86 198.74 506.06 198.74 504.35 197.52ZM506.06 194.94 509.86 194.94 511.51 196.08 511.51 199.88 507.71 199.88 506.06 198.74ZM507.71 196.08 511.51 196.08 513.09 197.16 513.09 200.96 509.29 200.96 507.71 199.88ZM509.29 197.16 513.09 197.16 514.59 198.19 514.59 201.99 510.79 201.99 509.29 200.96ZM510.79 198.19 514.59 198.19 516 199.2 516 203 512.2 203 510.79 201.99ZM512.2 199.2 516 199.2 517.37 200.23 517.37 204.03 513.57 204.03 512.2 203ZM513.57 200.23 517.37 200.23 518.73 201.27 518.73 205.07 514.93 205.07 513.57 204.03ZM514.93 201.27 518.73 201.27 520 202.27 520 206.07 516.2 206.07 514.93 205.07ZM516.2 202.27 520 202.27 521.14 203.18 521.14 206.98 517.34 206.98 516.2 206.07ZM517.34 203.18 521.14 203.18 522.09 203.94 522.09 207.74 518.29 207.74 517.34 206.98ZM518.29 203.94 522.09 203.94 522.8 204.5 522.8 208.3 519 208.3 518.29 207.74Z" fill="#0000ff"/>
<rect x="446.5" y="151" width="81" height="67.5" fill="none" stroke="#444"/>
<text x="524.5" y="163" class="t">C34&#160;&#160;MEO</text>
<text x="442.7" y="218.48" class="yl">-10</text>
<text x="442.7" y="201.17" class="yl">-5</text>
<text x="442.7" y="183.86" class="yl">0</text>
<text x="442.7" y="166.55" class="yl">5</text>
<text x="454.2" y="232.1" class="xl">0</text>
<text x="477.43" y="232.1" class="xl">200</text>
<text x="500.66" y="232.1" class="xl">400</text>
<text x="523.89" y="232.1" class="xl">600</text>
<text x="484.6" y="243.7" class="xl">DAY</text>
<line x1="36" y1="285" x2="115.5" y2="285" stroke="#c4c4c4" stroke-dasharray="1.3 3.6"/>
<line x1="36" y1="277.5" x2="115.5" y2="277.5" stroke="#c4c4c4" stroke-dasharray="1 2.3"/>
<line x1="36" y1="270" x2="115.5" y2="270" stroke="#c4c4c4" stroke-dasharray="1.3 3.6"/>
<line x1="36" y1="262.5" x2="115.5" y2="262.5" stroke="#c4c4c4" stroke-dasharray="1 2.3"/>
<line x1="36" y1="255" x2="115.5" y2="255" stroke="#c4c4c4" stroke-dasharray="1.3 3.6"/>
<line x1="36" y1="247.5" x2="115.5" y2="247.5" stroke="#c4c4c4" stroke-dasharray="1 2.3"/>
<line x1="36" y1="240" x2="115.5" y2="240" stroke="#c4c4c4" stroke-dasharray="1.3 3.6"/>
<line x1="36" y1="232.5" x2="115.5" y2="232.5" stroke="#c4c4c4" stroke-dasharray="1 2.3"/>
<path d="M35 285h3.5M116.5 285h-3.5" stroke="#333"/>
<path d="M35 277.5h2M116.5 277.5h-2" stroke="#333"/>
<path d="M35 270h3.5M116.5 270h-3.5" stroke="#333"/>
<path d="M35 262.5h2M116.5 262.5h-2" stroke="#333"/>
<path d="M35 255h3.5M116.5 255h-3.5" stroke="#333"/>
<path d="M35 247.5h2M116.5 247.5h-2" stroke="#333"/>
<path d="M35 240h3.5M116.5 240h-3.5" stroke="#333"/>
<path d="M35 232.5h2M116.5 232.5h-2" stroke="#333"/>
<path d="M46.64 225v3M46.64 292.5v-3" stroke="#333"/>
<path d="M58.29 225v1.5M58.29 292.5v-1.5" stroke="#333"/>
<path d="M69.93 225v3M69.93 292.5v-3" stroke="#333"/>
<path d="M81.57 225v1.5M81.57 292.5v-1.5" stroke="#333"/>
<path d="M93.21 225v3M93.21 292.5v-3" stroke="#333"/>
<path d="M104.86 225v1.5M104.86 292.5v-1.5" stroke="#333"/>
<path d="M45.1 231.9 48.9 231.9 54.2 235.4 54.2 239.2 50.4 239.2 45.1 235.7Z" fill="#0000ff"/>
<path d="M51 243.3 54.8 243.3 55.31 243.59 55.31 247.39 51.51 247.39 51 247.1ZM51.51 243.59 55.31 243.59 56.02 243.99 56.02 247.79 52.22 247.79 51.51 247.39ZM52.22 243.99 56.02 243.99 56.86 244.47 56.86 248.27 53.06 248.27 52.22 247.79ZM53.06 244.47 56.86 244.47 57.75 244.99 57.75 248.79 53.95 248.79 53.06 248.27ZM53.95 244.99 57.75 244.99 58.62 245.51 58.62 249.31 54.82 249.31 53.95 248.79ZM54.82 245.51 58.62 245.51 59.4 246 59.4 249.8 55.6 249.8 54.82 249.31ZM55.6 246 59.4 246 59.99 246.38 59.99 250.18 56.19 250.18 55.6 249.8ZM56.19 246.38 59.99 246.38 60.43 246.65 60.43 250.45 56.63 250.45 56.19 250.18ZM56.63 246.65 60.43 246.65 60.86 246.93 60.86 250.73 57.06 250.73 56.63 250.45ZM57.06 246.93 60.86 246.93 61.39 247.32 61.39 251.12 57.59 251.12 57.06 250.73ZM57.59 247.32 61.39 247.32 62.16 247.94 62.16 251.74 58.36 251.74 57.59 251.12ZM58.36 247.94 62.16 247.94 63.3 248.9 63.3 252.7 59.5 252.7 58.36 251.74ZM59.5 248.9 63.3 248.9 64.9 250.28 64.9 254.08 61.1 254.08 59.5 252.7ZM61.1 250.28 64.9 250.28 66.88 252.02 66.88 255.82 63.08 255.82 61.1 254.08ZM63.08 252.02 66.88 252.02 69.1 253.98 69.1 257.78 65.3 257.78 63.08 255.82ZM65.3 253.98 69.1 253.98 71.42 256.05 71.42 259.85 67.62 259.85 65.3 257.78ZM67.62 256.05 71.42 256.05 73.7 258.1 73.7 261.9 69.9 261.9 67.62 259.85ZM69.9 258.1 73.7 258.1 75.8 260 75.8 263.8 72 263.8 69.9 261.9ZM72 260 75.8 260 77.73 261.77 77.73 265.57 73.93 265.57 72 263.8ZM73.93 261.77 77.73 261.77 79.6 263.5 79.6 267.3 75.8 267.3 73.93 265.57ZM75.8 263.5 79.6 263.5 81.43 265.21 81.43 269.01 77.62 269.01 75.8 267.3ZM77.62 265.21 81.43 265.21 83.24 266.92 83.24 270.72 79.44 270.72 77.62 269.01ZM79.44 266.92 83.24 266.92 85.05 268.65 85.05 272.45 81.25 272.45 79.44 270.72ZM81.25 268.65 85.05 268.65 86.9 270.4 86.9 274.2 83.1 274.2 81.25 272.45ZM83.1 270.4 86.9 270.4 88.9 272.31 88.9 276.11 85.1 276.11 83.1 274.2ZM85.1 272.31 88.9 272.31 91.07 274.4 91.07 278.2 87.27 278.2 85.1 276.11ZM87.27 274.4 91.07 274.4 93.24 276.5 93.24 280.3 89.44 280.3 87.27 278.2ZM89.44 276.5 93.24 276.5 95.26 278.46 95.26 282.26 91.46 282.26 89.44 280.3ZM91.46 278.46 95.26 278.46 96.97 280.11 96.97 283.91 93.17 283.91 91.46 282.26ZM93.17 280.11 96.97 280.11 98.2 281.3 98.2 285.1 94.4 285.1 93.17 283.91Z" fill="#0000ff"/>
<path d="M94.4 281.3 95.13 281.01 98.93 281.01 98.93 284.81 98.2 285.1 94.4 285.1ZM95.13 281.01 96.13 280.61 99.93 280.61 99.93 284.41 98.93 284.81 95.13 284.81ZM96.13 280.61 97.32 280.14 101.12 280.14 101.12 283.94 99.93 284.41 96.13 284.41ZM97.32 280.14 98.61 279.64 102.41 279.64 102.41 283.44 101.12 283.94 97.32 283.94ZM98.61 279.64 99.9 279.15 103.7 279.15 103.7 282.95 102.41 283.44 98.61 283.44ZM99.9 279.15 101.1 278.7 104.9 278.7 104.9 282.5 103.7 282.95 99.9 282.95ZM101.1 278.7 102.31 278.27 106.11 278.27 106.11 282.07 104.9 282.5 101.1 282.5ZM102.31 278.27 103.61 277.83 107.41 277.83 107.41 281.63 106.11 282.07 102.31 282.07ZM103.61 277.83 104.92 277.39 108.72 277.39 108.72 281.19 107.41 281.63 103.61 281.63ZM104.92 277.39 106.13 276.99 109.93 276.99 109.93 280.79 108.72 281.19 104.92 281.19ZM106.13 276.99 107.16 276.65 110.96 276.65 110.96 280.45 109.93 280.79 106.13 280.79ZM107.16 276.65 107.9 276.4 111.7 276.4 111.7 280.2 110.96 280.45 107.16 280.45Z" fill="#0000ff"/>
<rect x="35" y="225" width="81.5" height="67.5" fill="none" stroke="#444"/>
<text x="113.5" y="237" class="t">C35&#160;&#160;MEO</text>
<text x="31.2" y="291.9" class="yl">-10</text>
<text x="31.2" y="276.9" class="yl">-5</text>
<text x="31.2" y="261.9" class="yl">0</text>
<text x="31.2" y="246.9" class="yl">5</text>
<text x="31.2" y="231.9" class="yl">10</text>
<text x="42.7" y="306.1" class="xl">0</text>
<text x="65.93" y="306.1" class="xl">200</text>
<text x="89.16" y="306.1" class="xl">400</text>
<text x="112.39" y="306.1" class="xl">600</text>
<text x="74" y="319.7" class="xl">DAY</text>
<line x1="138.5" y1="281.25" x2="218.5" y2="281.25" stroke="#c4c4c4" stroke-dasharray="1.3 3.6"/>
<line x1="138.5" y1="270" x2="218.5" y2="270" stroke="#c4c4c4" stroke-dasharray="1 2.3"/>
<line x1="138.5" y1="258.75" x2="218.5" y2="258.75" stroke="#c4c4c4" stroke-dasharray="1.3 3.6"/>
<line x1="138.5" y1="247.5" x2="218.5" y2="247.5" stroke="#c4c4c4" stroke-dasharray="1 2.3"/>
<line x1="138.5" y1="236.25" x2="218.5" y2="236.25" stroke="#c4c4c4" stroke-dasharray="1.3 3.6"/>
<path d="M137.5 281.25h3.5M219.5 281.25h-3.5" stroke="#333"/>
<path d="M137.5 270h2M219.5 270h-2" stroke="#333"/>
<path d="M137.5 258.75h3.5M219.5 258.75h-3.5" stroke="#333"/>
<path d="M137.5 247.5h2M219.5 247.5h-2" stroke="#333"/>
<path d="M137.5 236.25h3.5M219.5 236.25h-3.5" stroke="#333"/>
<path d="M149.21 225v3M149.21 292.5v-3" stroke="#333"/>
<path d="M160.93 225v1.5M160.93 292.5v-1.5" stroke="#333"/>
<path d="M172.64 225v3M172.64 292.5v-3" stroke="#333"/>
<path d="M184.36 225v1.5M184.36 292.5v-1.5" stroke="#333"/>
<path d="M196.07 225v3M196.07 292.5v-3" stroke="#333"/>
<path d="M207.79 225v1.5M207.79 292.5v-1.5" stroke="#333"/>
<path d="M148 237.3 151.8 237.3 152.46 237.68 152.46 241.48 148.66 241.48 148 241.1ZM148.66 237.68 152.46 237.68 153.36 238.18 153.36 241.98 149.56 241.98 148.66 241.48ZM149.56 238.18 153.36 238.18 154.43 238.78 154.43 242.58 150.63 242.58 149.56 241.98ZM150.63 238.78 154.43 238.78 155.61 239.49 155.61 243.29 151.81 243.29 150.63 242.58ZM151.81 239.49 155.61 239.49 156.82 240.3 156.82 244.1 153.02 244.1 151.81 243.29ZM153.02 240.3 156.82 240.3 158 241.2 158 245 154.2 245 153.02 244.1ZM154.2 241.2 158 241.2 159.18 242.22 159.18 246.02 155.38 246.02 154.2 245ZM155.38 242.22 159.18 242.22 160.41 243.36 160.41 247.16 156.61 247.16 155.38 246.02ZM156.61 243.36 160.41 243.36 161.67 244.59 161.67 248.39 157.87 248.39 156.61 247.16ZM157.87 244.59 161.67 244.59 162.96 245.91 162.96 249.71 159.16 249.71 157.87 248.39ZM159.16 245.91 162.96 245.91 164.24 247.29 164.24 251.09 160.44 251.09 159.16 249.71ZM160.44 247.29 164.24 247.29 165.5 248.7 165.5 252.5 161.7 252.5 160.44 251.09ZM161.7 248.7 165.5 248.7 166.75 250.18 166.75 253.98 162.95 253.98 161.7 252.5ZM162.95 250.18 166.75 250.18 168.01 251.75 168.01 255.55 164.21 255.55 162.95 253.98ZM164.21 251.75 168.01 251.75 169.27 253.38 169.27 257.18 165.47 257.18 164.21 255.55ZM165.47 253.38 169.27 253.38 170.51 255.03 170.51 258.83 166.71 258.83 165.47 257.18ZM166.71 255.03 170.51 255.03 171.73 256.68 171.73 260.48 167.93 260.48 166.71 258.83ZM167.93 256.68 171.73 256.68 172.9 258.3 172.9 262.1 169.1 262.1 167.93 260.48ZM169.1 258.3 172.9 258.3 174.05 259.89 174.05 263.69 170.25 263.69 169.1 262.1ZM170.25 259.89 174.05 259.89 175.19 261.49 175.19 265.29 171.39 265.29 170.25 263.69ZM171.39 261.49 175.19 261.49 176.29 263.07 176.29 266.87 172.49 266.87 171.39 265.29ZM172.49 263.07 176.29 263.07 177.36 264.66 177.36 268.46 173.56 268.46 172.49 266.87ZM173.56 264.66 177.36 264.66 178.37 266.24 178.37 270.04 174.57 270.04 173.56 268.46ZM174.57 266.24 178.37 266.24 179.3 267.8 179.3 271.6 175.5 271.6 174.57 270.04ZM175.5 267.8 179.3 267.8 180.19 269.46 180.19 273.26 176.39 273.26 175.5 271.6ZM176.39 269.46 180.19 269.46 181.05 271.23 181.05 275.03 177.25 275.03 176.39 273.26ZM177.25 271.23 181.05 271.23 181.85 272.99 181.85 276.79 178.05 276.79 177.25 275.03ZM178.05 272.99 181.85 272.99 182.56 274.63 182.56 278.43 178.76 278.43 178.05 276.79ZM178.76 274.63 182.56 274.63 183.16 276 183.16 279.8 179.36 279.8 178.76 278.43ZM179.36 276 183.16 276 183.6 277 183.6 280.8 179.8 280.8 179.36 279.8Z" fill="#0000ff"/>
<path d="M179.8 277 180.5 276.69 184.3 276.69 184.3 280.49 183.6 280.8 179.8 280.8ZM180.5 276.69 181.46 276.26 185.26 276.26 185.26 280.06 184.3 280.49 180.5 280.49ZM181.46 276.26 182.61 275.76 186.41 275.76 186.41 279.56 185.26 280.06 181.46 280.06ZM182.61 275.76 183.84 275.21 187.64 275.21 187.64 279.01 186.41 279.56 182.61 279.56ZM183.84 275.21 185.07 274.68 188.87 274.68 188.87 278.48 187.64 279.01 183.84 279.01ZM185.07 274.68 186.2 274.2 190 274.2 190 278 188.87 278.48 185.07 278.48ZM186.2 274.2 187.25 273.75 191.05 273.75 191.05 277.55 190 278 186.2 278ZM187.25 273.75 188.3 273.29 192.1 273.29 192.1 277.09 191.05 277.55 187.25 277.55ZM188.3 273.29 189.35 272.84 193.15 272.84 193.15 276.64 192.1 277.09 188.3 277.09ZM189.35 272.84 190.4 272.42 194.2 272.42 194.2 276.22 193.15 276.64 189.35 276.64ZM190.4 272.42 191.45 272.03 195.25 272.03 195.25 275.83 194.2 276.22 190.4 276.22ZM191.45 272.03 192.5 271.7 196.3 271.7 196.3 275.5 195.25 275.83 191.45 275.83ZM192.5 271.7 193.56 271.41 197.36 271.41 197.36 275.21 196.3 275.5 192.5 275.5ZM193.56 271.41 194.63 271.16 198.43 271.16 198.43 274.96 197.36 275.21 193.56 275.21ZM194.63 271.16 195.69 270.94 199.49 270.94 199.49 274.74 198.43 274.96 194.63 274.96ZM195.69 270.94 196.76 270.77 200.56 270.77 200.56 274.57 199.49 274.74 195.69 274.74ZM196.76 270.77 197.83 270.65 201.63 270.65 201.63 274.45 200.56 274.57 196.76 274.57ZM197.83 270.65 198.9 270.6 202.7 270.6 202.7 274.4 201.63 274.45 197.83 274.45ZM198.9 270.6 202.7 270.6 203.78 270.63 203.78 274.43 199.98 274.43 198.9 274.4ZM199.98 270.63 203.78 270.63 204.86 270.73 204.86 274.53 201.06 274.53 199.98 274.43ZM201.06 270.73 204.86 270.73 205.95 270.89 205.95 274.69 202.15 274.69 201.06 274.53ZM202.15 270.89 205.95 270.89 207.03 271.08 207.03 274.88 203.23 274.88 202.15 274.69ZM203.23 271.08 207.03 271.08 208.08 271.29 208.08 275.09 204.28 275.09 203.23 274.88ZM204.28 271.29 208.08 271.29 209.1 271.5 209.1 275.3 205.3 275.3 204.28 275.09ZM205.3 271.5 209.1 271.5 210.14 271.73 210.14 275.53 206.34 275.53 205.3 275.3ZM206.34 271.73 210.14 271.73 211.23 272.01 211.23 275.81 207.43 275.81 206.34 275.53ZM207.43 272.01 211.23 272.01 212.3 272.31 212.3 276.11 208.5 276.11 207.43 275.81ZM208.5 272.31 212.3 272.31 213.28 272.59 213.28 276.39 209.48 276.39 208.5 276.11ZM209.48 272.59 213.28 272.59 214.1 272.83 214.1 276.63 210.3 276.63 209.48 276.39ZM210.3 272.83 214.1 272.83 214.7 273 214.7 276.8 210.9 276.8 210.3 276.63Z" fill="#0000ff"/>
<rect x="137.5" y="225" width="82" height="67.5" fill="none" stroke="#444"/>
<text x="216.5" y="237" class="t">C36&#160;&#160;MEO</text>
<text x="133.7" y="288.15" class="yl">-10</text>
<text x="133.7" y="265.65" class="yl">-5</text>
<text x="133.7" y="243.15" class="yl">0</text>
<text x="145.2" y="306.1" class="xl">0</text>
<text x="168.43" y="306.1" class="xl">200</text>
<text x="191.66" y="306.1" class="xl">400</text>
<text x="214.89" y="306.1" class="xl">600</text>
<text x="176.5" y="319.7" class="xl">DAY</text>
<text transform="translate(11.6 39.75) rotate(-90)" class="ya">Phase (10<tspan class="sup" dx="-0.4" dy="-4.8">-4</tspan><tspan dy="4.8">s)</tspan></text>
<text transform="translate(11.6 114.6) rotate(-90)" class="ya">Phase (10<tspan class="sup" dx="-0.4" dy="-4.8">-4</tspan><tspan dy="4.8">s)</tspan></text>
<text transform="translate(11.6 188.2) rotate(-90)" class="ya">Phase (10<tspan class="sup" dx="-0.4" dy="-4.8">-4</tspan><tspan dy="4.8">s)</tspan></text>
<text transform="translate(11.6 261.8) rotate(-90)" class="ya">Phase (10<tspan class="sup" dx="-0.4" dy="-4.8">-4</tspan><tspan dy="4.8">s)</tspan></text>
</svg>
</body></html>
